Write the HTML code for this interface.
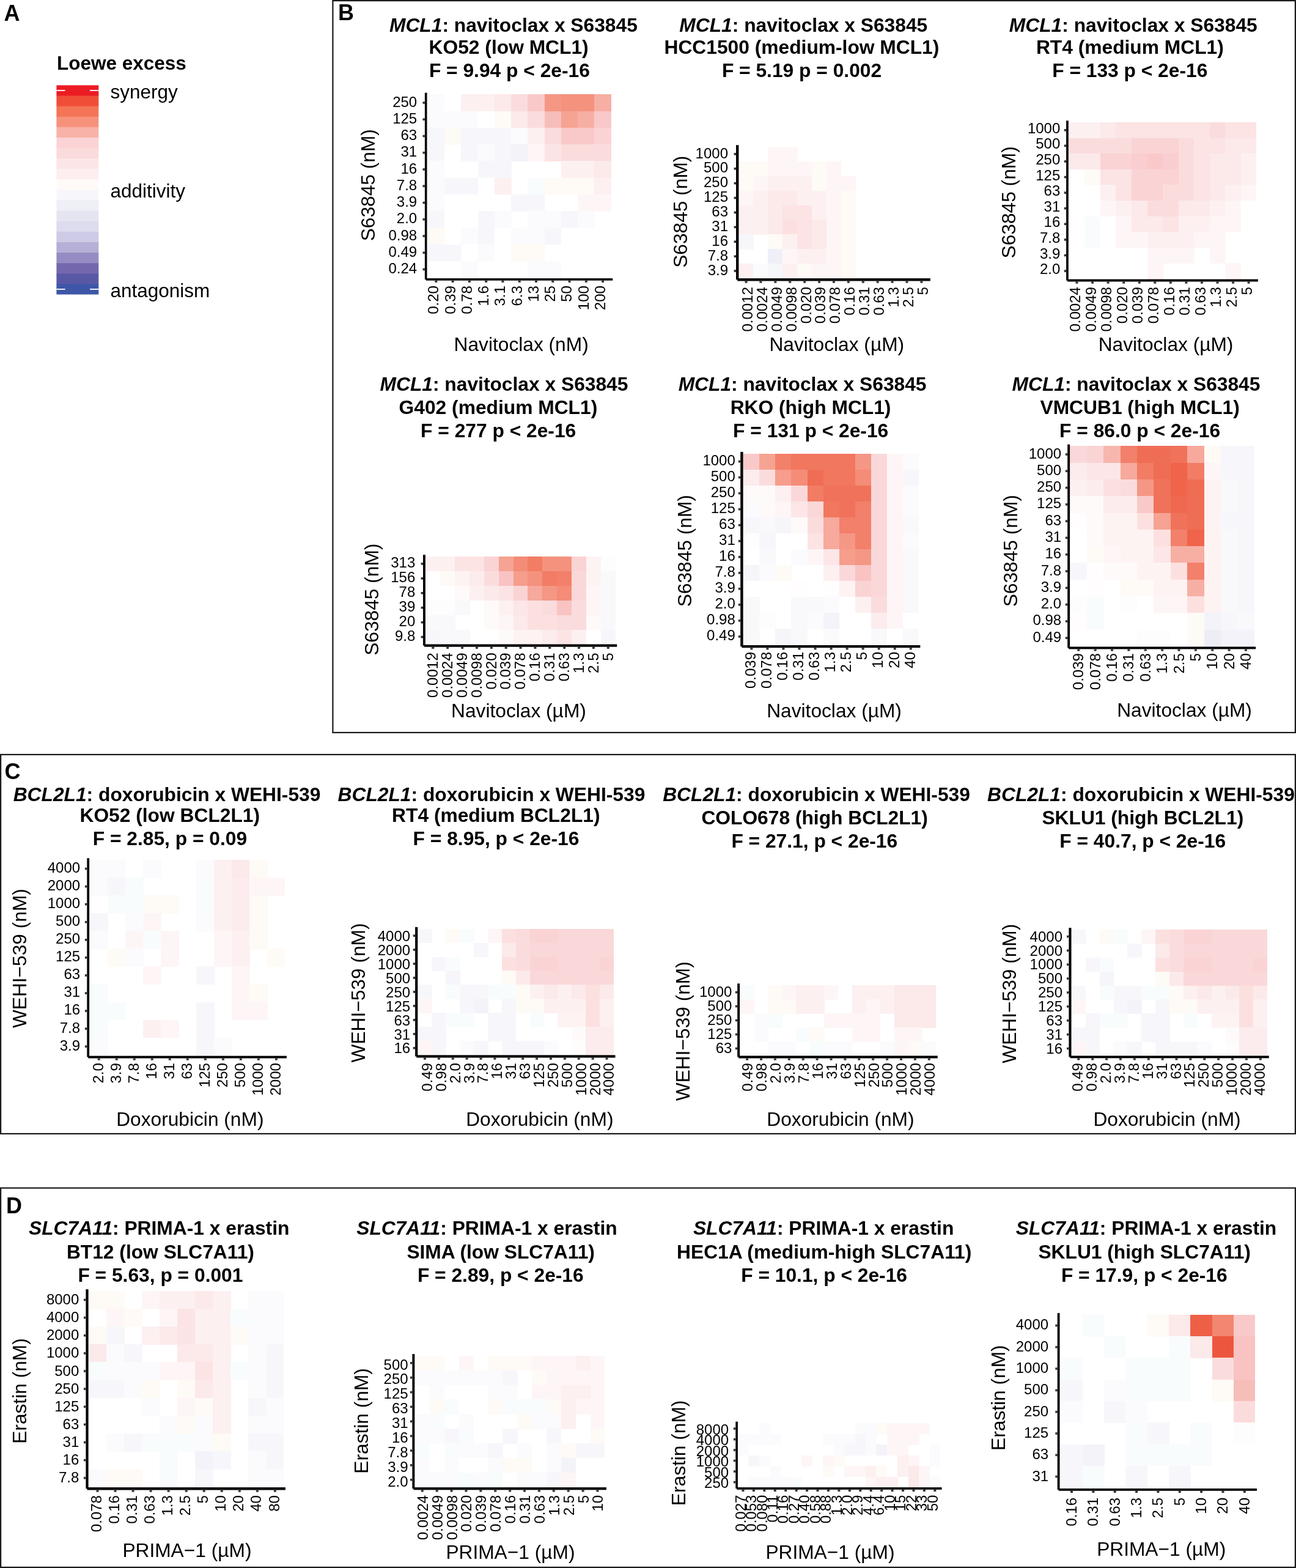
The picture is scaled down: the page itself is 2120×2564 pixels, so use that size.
<!DOCTYPE html><html><head><meta charset="utf-8"><title>Loewe excess heatmaps</title>
<style>html,body{margin:0;padding:0;background:#fff;}svg{display:block;}text{font-family:'Liberation Sans', Arial, Helvetica, sans-serif;fill:#000;}</style></head><body>
<svg xmlns="http://www.w3.org/2000/svg" width="2120" height="2564" viewBox="0 0 2120 2564">
<rect x="0" y="0" width="2120" height="2564" fill="#fff"/>
<rect x="544.4" y="1.1" width="1574.5" height="1196.8" fill="none" stroke="#1a1a1a" stroke-width="2.2"/>
<rect x="1.1" y="1233.9" width="2117.8" height="620.0" fill="none" stroke="#1a1a1a" stroke-width="2.2"/>
<rect x="1.1" y="1942.6" width="2117.8" height="620.3" fill="none" stroke="#1a1a1a" stroke-width="2.2"/>
<text x="6.5" y="33.5" font-size="36" font-weight="bold" fill="#1a1a1a">A</text>
<text x="553.0" y="32.8" font-size="36" font-weight="bold" fill="#1a1a1a">B</text>
<text x="7.5" y="1273.8" font-size="36" font-weight="bold" fill="#1a1a1a">C</text>
<text x="10.0" y="1984.0" font-size="36" font-weight="bold" fill="#1a1a1a">D</text>
<rect x="92.40" y="139.40" width="68.90" height="17.71" fill="#ec1c24"/>
<rect x="92.40" y="156.50" width="68.90" height="17.71" fill="#f04e37"/>
<rect x="92.40" y="173.61" width="68.90" height="17.71" fill="#f37456"/>
<rect x="92.40" y="190.72" width="68.90" height="17.71" fill="#f6917c"/>
<rect x="92.40" y="207.82" width="68.90" height="17.71" fill="#f8b2a7"/>
<rect x="92.40" y="224.93" width="68.90" height="17.71" fill="#fbd3d4"/>
<rect x="92.40" y="242.03" width="68.90" height="17.71" fill="#fbdadb"/>
<rect x="92.40" y="259.13" width="68.90" height="17.71" fill="#fce5e6"/>
<rect x="92.40" y="276.24" width="68.90" height="17.71" fill="#fdeeef"/>
<rect x="92.40" y="293.35" width="68.90" height="17.71" fill="#fffaf8"/>
<rect x="92.40" y="310.45" width="68.90" height="17.71" fill="#f7f7fb"/>
<rect x="92.40" y="327.56" width="68.90" height="17.71" fill="#efeff7"/>
<rect x="92.40" y="344.66" width="68.90" height="17.71" fill="#e5e4f1"/>
<rect x="92.40" y="361.76" width="68.90" height="17.71" fill="#dddcee"/>
<rect x="92.40" y="378.87" width="68.90" height="17.71" fill="#cdcbe5"/>
<rect x="92.40" y="395.98" width="68.90" height="17.71" fill="#b6afd6"/>
<rect x="92.40" y="413.08" width="68.90" height="17.71" fill="#978bc4"/>
<rect x="92.40" y="430.19" width="68.90" height="17.71" fill="#7567ae"/>
<rect x="92.40" y="447.29" width="68.90" height="17.71" fill="#5958a5"/>
<rect x="92.40" y="464.39" width="68.90" height="17.11" fill="#3e56a8"/>
<rect x="92.40" y="147.05" width="14.2" height="1.8" fill="#fff"/>
<rect x="147.10" y="147.05" width="14.2" height="1.8" fill="#fff"/>
<rect x="92.40" y="472.05" width="14.2" height="1.8" fill="#fff"/>
<rect x="147.10" y="472.05" width="14.2" height="1.8" fill="#fff"/>
<text x="93.0" y="113.5" font-size="31.5" font-weight="bold">Loewe excess</text>
<text x="180.5" y="160.6" font-size="31.5">synergy</text>
<text x="180.5" y="322.8" font-size="31.5">additivity</text>
<text x="180.5" y="485.5" font-size="31.5">antagonism</text>
<g shape-rendering="crispEdges"><rect x="698.50" y="154.38" width="28.99" height="27.75" fill="#fbfbfd"/><rect x="754.26" y="154.38" width="27.77" height="27.75" fill="#fdf0f0"/><rect x="781.54" y="154.38" width="27.77" height="27.75" fill="#fdf0f0"/><rect x="808.81" y="154.38" width="27.77" height="27.75" fill="#fce9ea"/><rect x="836.09" y="154.38" width="27.77" height="27.75" fill="#fbdcdd"/><rect x="863.36" y="154.38" width="27.77" height="27.75" fill="#f9c9ca"/><rect x="890.63" y="154.38" width="27.77" height="27.75" fill="#f59785"/><rect x="917.91" y="154.38" width="27.77" height="27.75" fill="#f4927e"/><rect x="945.19" y="154.38" width="27.77" height="27.75" fill="#f4927e"/><rect x="972.46" y="154.38" width="27.27" height="27.75" fill="#f7afa4"/><rect x="698.50" y="181.62" width="28.99" height="27.75" fill="#fbfbfd"/><rect x="726.99" y="181.62" width="27.77" height="27.75" fill="#fbfbfd"/><rect x="754.26" y="181.62" width="27.77" height="27.75" fill="#fbfbfd"/><rect x="808.81" y="181.62" width="27.77" height="27.75" fill="#fefaf6"/><rect x="836.09" y="181.62" width="27.77" height="27.75" fill="#fce9ea"/><rect x="863.36" y="181.62" width="27.77" height="27.75" fill="#fbdcdd"/><rect x="890.63" y="181.62" width="27.77" height="27.75" fill="#f7bdb9"/><rect x="917.91" y="181.62" width="27.77" height="27.75" fill="#f6a393"/><rect x="945.19" y="181.62" width="27.77" height="27.75" fill="#f7afa4"/><rect x="972.46" y="181.62" width="27.27" height="27.75" fill="#f9c9ca"/><rect x="698.50" y="208.88" width="28.99" height="27.75" fill="#f7f7fb"/><rect x="726.99" y="208.88" width="27.77" height="27.75" fill="#fefaf6"/><rect x="754.26" y="208.88" width="27.77" height="27.75" fill="#f7f7fb"/><rect x="781.54" y="208.88" width="27.77" height="27.75" fill="#f7f7fb"/><rect x="808.81" y="208.88" width="27.77" height="27.75" fill="#f7f7fb"/><rect x="836.09" y="208.88" width="27.77" height="27.75" fill="#fbfbfd"/><rect x="863.36" y="208.88" width="27.77" height="27.75" fill="#fdf0f0"/><rect x="890.63" y="208.88" width="27.77" height="27.75" fill="#fbdcdd"/><rect x="917.91" y="208.88" width="27.77" height="27.75" fill="#f9c9ca"/><rect x="945.19" y="208.88" width="27.77" height="27.75" fill="#f9c9ca"/><rect x="972.46" y="208.88" width="27.27" height="27.75" fill="#fad3d5"/><rect x="698.50" y="236.12" width="28.99" height="27.75" fill="#f7f7fb"/><rect x="754.26" y="236.12" width="27.77" height="27.75" fill="#f7f7fb"/><rect x="781.54" y="236.12" width="27.77" height="27.75" fill="#fbfbfd"/><rect x="808.81" y="236.12" width="27.77" height="27.75" fill="#f7f7fb"/><rect x="836.09" y="236.12" width="27.77" height="27.75" fill="#f3f3f9"/><rect x="863.36" y="236.12" width="27.77" height="27.75" fill="#fef6f6"/><rect x="890.63" y="236.12" width="27.77" height="27.75" fill="#fce3e4"/><rect x="917.91" y="236.12" width="27.77" height="27.75" fill="#fbdcdd"/><rect x="945.19" y="236.12" width="27.77" height="27.75" fill="#fbdcdd"/><rect x="972.46" y="236.12" width="27.27" height="27.75" fill="#fbdcdd"/><rect x="698.50" y="263.38" width="28.99" height="27.75" fill="#fbfbfd"/><rect x="781.54" y="263.38" width="27.77" height="27.75" fill="#f7f7fb"/><rect x="808.81" y="263.38" width="27.77" height="27.75" fill="#f7f7fb"/><rect x="917.91" y="263.38" width="27.77" height="27.75" fill="#fdf0f0"/><rect x="945.19" y="263.38" width="27.77" height="27.75" fill="#fdf0f0"/><rect x="972.46" y="263.38" width="27.27" height="27.75" fill="#fce9ea"/><rect x="698.50" y="290.62" width="28.99" height="27.75" fill="#fbfbfd"/><rect x="726.99" y="290.62" width="27.77" height="27.75" fill="#f7f7fb"/><rect x="754.26" y="290.62" width="27.77" height="27.75" fill="#f7f7fb"/><rect x="808.81" y="290.62" width="27.77" height="27.75" fill="#fdf0f0"/><rect x="863.36" y="290.62" width="27.77" height="27.75" fill="#f9fcfd"/><rect x="890.63" y="290.62" width="27.77" height="27.75" fill="#fefaf6"/><rect x="917.91" y="290.62" width="27.77" height="27.75" fill="#fefaf6"/><rect x="945.19" y="290.62" width="27.77" height="27.75" fill="#fefaf6"/><rect x="972.46" y="290.62" width="27.27" height="27.75" fill="#fdf0f0"/><rect x="698.50" y="317.88" width="28.99" height="27.75" fill="#fbfbfd"/><rect x="836.09" y="317.88" width="27.77" height="27.75" fill="#f7f7fb"/><rect x="863.36" y="317.88" width="27.77" height="27.75" fill="#f7f7fb"/><rect x="945.19" y="317.88" width="27.77" height="27.75" fill="#fef6f6"/><rect x="972.46" y="317.88" width="27.27" height="27.75" fill="#fef6f6"/><rect x="698.50" y="345.12" width="28.99" height="27.75" fill="#f7f7fb"/><rect x="781.54" y="345.12" width="27.77" height="27.75" fill="#f7f7fb"/><rect x="808.81" y="345.12" width="27.77" height="27.75" fill="#fbfbfd"/><rect x="863.36" y="345.12" width="27.77" height="27.75" fill="#fbfbfd"/><rect x="890.63" y="345.12" width="27.77" height="27.75" fill="#fbfbfd"/><rect x="917.91" y="345.12" width="27.77" height="27.75" fill="#f7f7fb"/><rect x="945.19" y="345.12" width="27.77" height="27.75" fill="#fbfbfd"/><rect x="698.50" y="372.38" width="28.99" height="27.75" fill="#fefaf6"/><rect x="754.26" y="372.38" width="27.77" height="27.75" fill="#fbfbfd"/><rect x="781.54" y="372.38" width="27.77" height="27.75" fill="#f7f7fb"/><rect x="836.09" y="372.38" width="27.77" height="27.75" fill="#fbfbfd"/><rect x="863.36" y="372.38" width="27.77" height="27.75" fill="#fbfbfd"/><rect x="890.63" y="372.38" width="27.77" height="27.75" fill="#f7f7fb"/><rect x="698.50" y="399.62" width="28.99" height="27.75" fill="#f7f7fb"/><rect x="726.99" y="399.62" width="27.77" height="27.75" fill="#f7f7fb"/><rect x="781.54" y="399.62" width="27.77" height="27.75" fill="#fbfbfd"/><rect x="836.09" y="399.62" width="27.77" height="27.75" fill="#fefaf6"/><rect x="863.36" y="399.62" width="27.77" height="27.75" fill="#fefaf6"/><rect x="754.26" y="426.88" width="27.77" height="28.23" fill="#fbfbfd"/><rect x="863.36" y="426.88" width="27.77" height="28.23" fill="#fbfbfd"/><rect x="890.63" y="426.88" width="27.77" height="28.23" fill="#fbfbfd"/></g>
<rect x="694.90" y="151.68" width="3.60" height="305.22" fill="#000"/>
<rect x="696.70" y="455.10" width="305.53" height="3.60" fill="#000"/>
<rect x="691.50" y="166.20" width="3.4" height="3.6" fill="#333333"/><rect x="691.50" y="193.45" width="3.4" height="3.6" fill="#333333"/><rect x="691.50" y="220.70" width="3.4" height="3.6" fill="#333333"/><rect x="691.50" y="247.95" width="3.4" height="3.6" fill="#333333"/><rect x="691.50" y="275.20" width="3.4" height="3.6" fill="#333333"/><rect x="691.50" y="302.45" width="3.4" height="3.6" fill="#333333"/><rect x="691.50" y="329.70" width="3.4" height="3.6" fill="#333333"/><rect x="691.50" y="356.95" width="3.4" height="3.6" fill="#333333"/><rect x="691.50" y="384.20" width="3.4" height="3.6" fill="#333333"/><rect x="691.50" y="411.45" width="3.4" height="3.6" fill="#333333"/><rect x="691.50" y="438.70" width="3.4" height="3.6" fill="#333333"/><rect x="711.35" y="458.70" width="4.0" height="3.2" fill="#333333"/><rect x="738.62" y="458.70" width="4.0" height="3.2" fill="#333333"/><rect x="765.90" y="458.70" width="4.0" height="3.2" fill="#333333"/><rect x="793.17" y="458.70" width="4.0" height="3.2" fill="#333333"/><rect x="820.45" y="458.70" width="4.0" height="3.2" fill="#333333"/><rect x="847.72" y="458.70" width="4.0" height="3.2" fill="#333333"/><rect x="875.00" y="458.70" width="4.0" height="3.2" fill="#333333"/><rect x="902.27" y="458.70" width="4.0" height="3.2" fill="#333333"/><rect x="929.55" y="458.70" width="4.0" height="3.2" fill="#333333"/><rect x="956.82" y="458.70" width="4.0" height="3.2" fill="#333333"/><rect x="984.10" y="458.70" width="4.0" height="3.2" fill="#333333"/>
<text x="682.20" y="174.60" font-size="24" text-anchor="end">250</text><text x="682.20" y="201.85" font-size="24" text-anchor="end">125</text><text x="682.20" y="229.10" font-size="24" text-anchor="end">63</text><text x="682.20" y="256.35" font-size="24" text-anchor="end">31</text><text x="682.20" y="283.60" font-size="24" text-anchor="end">16</text><text x="682.20" y="310.85" font-size="24" text-anchor="end">7.8</text><text x="682.20" y="338.10" font-size="24" text-anchor="end">3.9</text><text x="682.20" y="365.35" font-size="24" text-anchor="end">2.0</text><text x="682.20" y="392.60" font-size="24" text-anchor="end">0.98</text><text x="682.20" y="419.85" font-size="24" text-anchor="end">0.49</text><text x="682.20" y="447.10" font-size="24" text-anchor="end">0.24</text><text transform="translate(717.25 467.10) rotate(-90)" font-size="24" text-anchor="end">0.20</text><text transform="translate(744.52 467.10) rotate(-90)" font-size="24" text-anchor="end">0.39</text><text transform="translate(771.80 467.10) rotate(-90)" font-size="24" text-anchor="end">0.78</text><text transform="translate(799.07 467.10) rotate(-90)" font-size="24" text-anchor="end">1.6</text><text transform="translate(826.35 467.10) rotate(-90)" font-size="24" text-anchor="end">3.1</text><text transform="translate(853.62 467.10) rotate(-90)" font-size="24" text-anchor="end">6.3</text><text transform="translate(880.90 467.10) rotate(-90)" font-size="24" text-anchor="end">13</text><text transform="translate(908.17 467.10) rotate(-90)" font-size="24" text-anchor="end">25</text><text transform="translate(935.45 467.10) rotate(-90)" font-size="24" text-anchor="end">50</text><text transform="translate(962.72 467.10) rotate(-90)" font-size="24" text-anchor="end">100</text><text transform="translate(990.00 467.10) rotate(-90)" font-size="24" text-anchor="end">200</text>
<text x="636.94" y="52.30" font-size="31.75" font-weight="bold"><tspan font-style="italic">MCL1</tspan>: navitoclax x S63845</text>
<text x="701.58" y="87.60" font-size="31.75" font-weight="bold">KO52 (low MCL1)</text>
<text x="701.88" y="125.60" font-size="31.75" font-weight="bold">F = 9.94 p &lt; 2e-16</text>
<text x="742.60" y="573.90" font-size="31.70">Navitoclax (nM)</text>
<text transform="translate(612.70 302.70) rotate(-90)" font-size="31.70" text-anchor="middle">S63845 (nM)</text>
<g shape-rendering="crispEdges"><rect x="1256.37" y="239.96" width="24.41" height="24.39" fill="#fef6f6"/><rect x="1280.27" y="239.96" width="24.41" height="24.39" fill="#fef6f6"/><rect x="1208.40" y="263.85" width="24.56" height="24.39" fill="#fefaf6"/><rect x="1232.46" y="263.85" width="24.41" height="24.39" fill="#fefaf6"/><rect x="1256.37" y="263.85" width="24.41" height="24.39" fill="#fef6f6"/><rect x="1280.27" y="263.85" width="24.41" height="24.39" fill="#fef6f6"/><rect x="1304.18" y="263.85" width="24.41" height="24.39" fill="#fef6f6"/><rect x="1328.09" y="263.85" width="24.41" height="24.39" fill="#fefaf6"/><rect x="1352.00" y="263.85" width="24.41" height="24.39" fill="#fef6f6"/><rect x="1208.40" y="287.74" width="24.56" height="24.39" fill="#fefaf6"/><rect x="1232.46" y="287.74" width="24.41" height="24.39" fill="#fef6f6"/><rect x="1256.37" y="287.74" width="24.41" height="24.39" fill="#fdf0f0"/><rect x="1280.27" y="287.74" width="24.41" height="24.39" fill="#fdf0f0"/><rect x="1304.18" y="287.74" width="24.41" height="24.39" fill="#fdf0f0"/><rect x="1328.09" y="287.74" width="24.41" height="24.39" fill="#fefaf6"/><rect x="1352.00" y="287.74" width="24.41" height="24.39" fill="#fef6f6"/><rect x="1375.91" y="287.74" width="24.41" height="24.39" fill="#fef6f6"/><rect x="1208.40" y="311.63" width="24.56" height="24.39" fill="#fef6f6"/><rect x="1232.46" y="311.63" width="24.41" height="24.39" fill="#fdf0f0"/><rect x="1256.37" y="311.63" width="24.41" height="24.39" fill="#fce9ea"/><rect x="1280.27" y="311.63" width="24.41" height="24.39" fill="#fce9ea"/><rect x="1304.18" y="311.63" width="24.41" height="24.39" fill="#fdf0f0"/><rect x="1328.09" y="311.63" width="24.41" height="24.39" fill="#fdf0f0"/><rect x="1352.00" y="311.63" width="24.41" height="24.39" fill="#fef6f6"/><rect x="1375.91" y="311.63" width="24.41" height="24.39" fill="#fefaf6"/><rect x="1208.40" y="335.52" width="24.56" height="24.39" fill="#fdf0f0"/><rect x="1232.46" y="335.52" width="24.41" height="24.39" fill="#fdf0f0"/><rect x="1256.37" y="335.52" width="24.41" height="24.39" fill="#fce9ea"/><rect x="1280.27" y="335.52" width="24.41" height="24.39" fill="#fce3e4"/><rect x="1304.18" y="335.52" width="24.41" height="24.39" fill="#fce3e4"/><rect x="1328.09" y="335.52" width="24.41" height="24.39" fill="#fdf0f0"/><rect x="1352.00" y="335.52" width="24.41" height="24.39" fill="#fef6f6"/><rect x="1375.91" y="335.52" width="24.41" height="24.39" fill="#fefaf6"/><rect x="1208.40" y="359.41" width="24.56" height="24.39" fill="#fdf0f0"/><rect x="1232.46" y="359.41" width="24.41" height="24.39" fill="#fdf0f0"/><rect x="1256.37" y="359.41" width="24.41" height="24.39" fill="#fce9ea"/><rect x="1280.27" y="359.41" width="24.41" height="24.39" fill="#fce0e0"/><rect x="1304.18" y="359.41" width="24.41" height="24.39" fill="#fce3e4"/><rect x="1328.09" y="359.41" width="24.41" height="24.39" fill="#fce9ea"/><rect x="1352.00" y="359.41" width="24.41" height="24.39" fill="#fef6f6"/><rect x="1375.91" y="359.41" width="24.41" height="24.39" fill="#fefaf6"/><rect x="1208.40" y="383.30" width="24.56" height="24.39" fill="#f7f7fb"/><rect x="1256.37" y="383.30" width="24.41" height="24.39" fill="#fefaf6"/><rect x="1280.27" y="383.30" width="24.41" height="24.39" fill="#fdf0f0"/><rect x="1304.18" y="383.30" width="24.41" height="24.39" fill="#fce3e4"/><rect x="1328.09" y="383.30" width="24.41" height="24.39" fill="#fce9ea"/><rect x="1352.00" y="383.30" width="24.41" height="24.39" fill="#fef6f6"/><rect x="1375.91" y="383.30" width="24.41" height="24.39" fill="#fefaf6"/><rect x="1256.37" y="407.19" width="24.41" height="24.39" fill="#efeff7"/><rect x="1280.27" y="407.19" width="24.41" height="24.39" fill="#fef6f6"/><rect x="1304.18" y="407.19" width="24.41" height="24.39" fill="#fdf0f0"/><rect x="1328.09" y="407.19" width="24.41" height="24.39" fill="#fdf0f0"/><rect x="1352.00" y="407.19" width="24.41" height="24.39" fill="#fef6f6"/><rect x="1375.91" y="407.19" width="24.41" height="24.39" fill="#fefaf6"/><rect x="1208.40" y="431.08" width="24.56" height="24.02" fill="#fdf0f0"/><rect x="1232.46" y="431.08" width="24.41" height="24.02" fill="#fbfbfd"/><rect x="1256.37" y="431.08" width="24.41" height="24.02" fill="#f7f7fb"/><rect x="1280.27" y="431.08" width="24.41" height="24.02" fill="#fdf0f0"/><rect x="1304.18" y="431.08" width="24.41" height="24.02" fill="#fefaf6"/><rect x="1328.09" y="431.08" width="24.41" height="24.02" fill="#fef6f6"/><rect x="1352.00" y="431.08" width="24.41" height="24.02" fill="#fef6f6"/><rect x="1375.91" y="431.08" width="24.41" height="24.02" fill="#fefaf6"/></g>
<rect x="1204.00" y="237.26" width="4.40" height="220.04" fill="#000"/>
<rect x="1206.20" y="455.10" width="315.65" height="4.40" fill="#000"/>
<rect x="1200.60" y="250.10" width="3.4" height="3.6" fill="#333333"/><rect x="1200.60" y="274.00" width="3.4" height="3.6" fill="#333333"/><rect x="1200.60" y="297.88" width="3.4" height="3.6" fill="#333333"/><rect x="1200.60" y="321.78" width="3.4" height="3.6" fill="#333333"/><rect x="1200.60" y="345.67" width="3.4" height="3.6" fill="#333333"/><rect x="1200.60" y="369.56" width="3.4" height="3.6" fill="#333333"/><rect x="1200.60" y="393.44" width="3.4" height="3.6" fill="#333333"/><rect x="1200.60" y="417.33" width="3.4" height="3.6" fill="#333333"/><rect x="1200.60" y="441.22" width="3.4" height="3.6" fill="#333333"/><rect x="1218.50" y="459.50" width="4.0" height="3.2" fill="#333333"/><rect x="1242.41" y="459.50" width="4.0" height="3.2" fill="#333333"/><rect x="1266.32" y="459.50" width="4.0" height="3.2" fill="#333333"/><rect x="1290.23" y="459.50" width="4.0" height="3.2" fill="#333333"/><rect x="1314.14" y="459.50" width="4.0" height="3.2" fill="#333333"/><rect x="1338.04" y="459.50" width="4.0" height="3.2" fill="#333333"/><rect x="1361.95" y="459.50" width="4.0" height="3.2" fill="#333333"/><rect x="1385.86" y="459.50" width="4.0" height="3.2" fill="#333333"/><rect x="1409.77" y="459.50" width="4.0" height="3.2" fill="#333333"/><rect x="1433.68" y="459.50" width="4.0" height="3.2" fill="#333333"/><rect x="1457.58" y="459.50" width="4.0" height="3.2" fill="#333333"/><rect x="1481.49" y="459.50" width="4.0" height="3.2" fill="#333333"/><rect x="1505.40" y="459.50" width="4.0" height="3.2" fill="#333333"/>
<text x="1191.00" y="258.50" font-size="24" text-anchor="end">1000</text><text x="1191.00" y="282.40" font-size="24" text-anchor="end">500</text><text x="1191.00" y="306.29" font-size="24" text-anchor="end">250</text><text x="1191.00" y="330.18" font-size="24" text-anchor="end">125</text><text x="1191.00" y="354.07" font-size="24" text-anchor="end">63</text><text x="1191.00" y="377.96" font-size="24" text-anchor="end">31</text><text x="1191.00" y="401.85" font-size="24" text-anchor="end">16</text><text x="1191.00" y="425.74" font-size="24" text-anchor="end">7.8</text><text x="1191.00" y="449.62" font-size="24" text-anchor="end">3.9</text><text transform="translate(1230.90 469.10) rotate(-90)" font-size="24" text-anchor="end">0.0012</text><text transform="translate(1254.81 469.10) rotate(-90)" font-size="24" text-anchor="end">0.0024</text><text transform="translate(1278.72 469.10) rotate(-90)" font-size="24" text-anchor="end">0.0049</text><text transform="translate(1302.63 469.10) rotate(-90)" font-size="24" text-anchor="end">0.0098</text><text transform="translate(1326.54 469.10) rotate(-90)" font-size="24" text-anchor="end">0.020</text><text transform="translate(1350.44 469.10) rotate(-90)" font-size="24" text-anchor="end">0.039</text><text transform="translate(1374.35 469.10) rotate(-90)" font-size="24" text-anchor="end">0.078</text><text transform="translate(1398.26 469.10) rotate(-90)" font-size="24" text-anchor="end">0.16</text><text transform="translate(1422.17 469.10) rotate(-90)" font-size="24" text-anchor="end">0.31</text><text transform="translate(1446.08 469.10) rotate(-90)" font-size="24" text-anchor="end">0.63</text><text transform="translate(1469.98 469.10) rotate(-90)" font-size="24" text-anchor="end">1.3</text><text transform="translate(1493.89 469.10) rotate(-90)" font-size="24" text-anchor="end">2.5</text><text transform="translate(1517.80 469.10) rotate(-90)" font-size="24" text-anchor="end">5</text>
<text x="1111.34" y="52.30" font-size="31.75" font-weight="bold"><tspan font-style="italic">MCL1</tspan>: navitoclax x S63845</text>
<text x="1086.48" y="87.60" font-size="31.75" font-weight="bold">HCC1500 (medium-low MCL1)</text>
<text x="1180.88" y="125.60" font-size="31.75" font-weight="bold">F = 5.19 p = 0.002</text>
<text x="1258.40" y="573.90" font-size="31.70">Navitoclax (µM)</text>
<text transform="translate(1123.80 346.20) rotate(-90)" font-size="31.70" text-anchor="middle">S63845 (nM)</text>
<g shape-rendering="crispEdges"><rect x="1747.80" y="200.00" width="26.96" height="26.09" fill="#fdf0f0"/><rect x="1774.26" y="200.00" width="26.06" height="26.09" fill="#fdf0f0"/><rect x="1799.82" y="200.00" width="26.06" height="26.09" fill="#fce9ea"/><rect x="1825.38" y="200.00" width="26.06" height="26.09" fill="#fce3e4"/><rect x="1850.94" y="200.00" width="26.06" height="26.09" fill="#fce3e4"/><rect x="1876.50" y="200.00" width="26.06" height="26.09" fill="#fce3e4"/><rect x="1902.06" y="200.00" width="26.06" height="26.09" fill="#fce3e4"/><rect x="1927.62" y="200.00" width="26.06" height="26.09" fill="#fce3e4"/><rect x="1953.18" y="200.00" width="26.06" height="26.09" fill="#fce3e4"/><rect x="1978.74" y="200.00" width="26.06" height="26.09" fill="#fbdcdd"/><rect x="2004.30" y="200.00" width="26.06" height="26.09" fill="#fce3e4"/><rect x="2029.86" y="200.00" width="25.56" height="26.09" fill="#fce3e4"/><rect x="1747.80" y="225.59" width="26.96" height="26.09" fill="#fbdcdd"/><rect x="1774.26" y="225.59" width="26.06" height="26.09" fill="#fbdcdd"/><rect x="1799.82" y="225.59" width="26.06" height="26.09" fill="#fbdcdd"/><rect x="1825.38" y="225.59" width="26.06" height="26.09" fill="#fbdcdd"/><rect x="1850.94" y="225.59" width="26.06" height="26.09" fill="#fad3d5"/><rect x="1876.50" y="225.59" width="26.06" height="26.09" fill="#fad3d5"/><rect x="1902.06" y="225.59" width="26.06" height="26.09" fill="#fad3d5"/><rect x="1927.62" y="225.59" width="26.06" height="26.09" fill="#fbdcdd"/><rect x="1953.18" y="225.59" width="26.06" height="26.09" fill="#fce3e4"/><rect x="1978.74" y="225.59" width="26.06" height="26.09" fill="#fce3e4"/><rect x="2004.30" y="225.59" width="26.06" height="26.09" fill="#fce9ea"/><rect x="2029.86" y="225.59" width="25.56" height="26.09" fill="#fce9ea"/><rect x="1747.80" y="251.18" width="26.96" height="26.09" fill="#fce9ea"/><rect x="1774.26" y="251.18" width="26.06" height="26.09" fill="#fce9ea"/><rect x="1799.82" y="251.18" width="26.06" height="26.09" fill="#fad3d5"/><rect x="1825.38" y="251.18" width="26.06" height="26.09" fill="#fad3d5"/><rect x="1850.94" y="251.18" width="26.06" height="26.09" fill="#faced0"/><rect x="1876.50" y="251.18" width="26.06" height="26.09" fill="#f9c9ca"/><rect x="1902.06" y="251.18" width="26.06" height="26.09" fill="#faced0"/><rect x="1927.62" y="251.18" width="26.06" height="26.09" fill="#fbdcdd"/><rect x="1953.18" y="251.18" width="26.06" height="26.09" fill="#fce3e4"/><rect x="1978.74" y="251.18" width="26.06" height="26.09" fill="#fce9ea"/><rect x="2004.30" y="251.18" width="26.06" height="26.09" fill="#fce9ea"/><rect x="2029.86" y="251.18" width="25.56" height="26.09" fill="#fdf0f0"/><rect x="1774.26" y="276.77" width="26.06" height="26.09" fill="#fefaf6"/><rect x="1799.82" y="276.77" width="26.06" height="26.09" fill="#fce3e4"/><rect x="1825.38" y="276.77" width="26.06" height="26.09" fill="#fce3e4"/><rect x="1850.94" y="276.77" width="26.06" height="26.09" fill="#fad3d5"/><rect x="1876.50" y="276.77" width="26.06" height="26.09" fill="#fad3d5"/><rect x="1902.06" y="276.77" width="26.06" height="26.09" fill="#fad3d5"/><rect x="1927.62" y="276.77" width="26.06" height="26.09" fill="#fbdcdd"/><rect x="1953.18" y="276.77" width="26.06" height="26.09" fill="#fce3e4"/><rect x="1978.74" y="276.77" width="26.06" height="26.09" fill="#fce9ea"/><rect x="2004.30" y="276.77" width="26.06" height="26.09" fill="#fce9ea"/><rect x="2029.86" y="276.77" width="25.56" height="26.09" fill="#fdf0f0"/><rect x="1799.82" y="302.36" width="26.06" height="26.09" fill="#fdf0f0"/><rect x="1825.38" y="302.36" width="26.06" height="26.09" fill="#fce3e4"/><rect x="1850.94" y="302.36" width="26.06" height="26.09" fill="#fad3d5"/><rect x="1876.50" y="302.36" width="26.06" height="26.09" fill="#fad3d5"/><rect x="1902.06" y="302.36" width="26.06" height="26.09" fill="#fbdcdd"/><rect x="1927.62" y="302.36" width="26.06" height="26.09" fill="#fbdcdd"/><rect x="1953.18" y="302.36" width="26.06" height="26.09" fill="#fce3e4"/><rect x="1978.74" y="302.36" width="26.06" height="26.09" fill="#fce9ea"/><rect x="2004.30" y="302.36" width="26.06" height="26.09" fill="#fdf0f0"/><rect x="2029.86" y="302.36" width="25.56" height="26.09" fill="#fef6f6"/><rect x="1799.82" y="327.95" width="26.06" height="26.09" fill="#fef6f6"/><rect x="1825.38" y="327.95" width="26.06" height="26.09" fill="#fdf0f0"/><rect x="1850.94" y="327.95" width="26.06" height="26.09" fill="#fce9ea"/><rect x="1876.50" y="327.95" width="26.06" height="26.09" fill="#fbdcdd"/><rect x="1902.06" y="327.95" width="26.06" height="26.09" fill="#fbdcdd"/><rect x="1927.62" y="327.95" width="26.06" height="26.09" fill="#fce9ea"/><rect x="1953.18" y="327.95" width="26.06" height="26.09" fill="#fce9ea"/><rect x="1978.74" y="327.95" width="26.06" height="26.09" fill="#fdf0f0"/><rect x="2004.30" y="327.95" width="26.06" height="26.09" fill="#fef6f6"/><rect x="1774.26" y="353.54" width="26.06" height="26.09" fill="#f9fcfd"/><rect x="1825.38" y="353.54" width="26.06" height="26.09" fill="#fef6f6"/><rect x="1850.94" y="353.54" width="26.06" height="26.09" fill="#fce9ea"/><rect x="1876.50" y="353.54" width="26.06" height="26.09" fill="#fce9ea"/><rect x="1902.06" y="353.54" width="26.06" height="26.09" fill="#fce3e4"/><rect x="1927.62" y="353.54" width="26.06" height="26.09" fill="#fdf0f0"/><rect x="1953.18" y="353.54" width="26.06" height="26.09" fill="#fdf0f0"/><rect x="1978.74" y="353.54" width="26.06" height="26.09" fill="#fef6f6"/><rect x="2004.30" y="353.54" width="26.06" height="26.09" fill="#fef6f6"/><rect x="1774.26" y="379.13" width="26.06" height="26.09" fill="#f9fcfd"/><rect x="1825.38" y="379.13" width="26.06" height="26.09" fill="#fef6f6"/><rect x="1850.94" y="379.13" width="26.06" height="26.09" fill="#fef6f6"/><rect x="1876.50" y="379.13" width="26.06" height="26.09" fill="#fdf0f0"/><rect x="1902.06" y="379.13" width="26.06" height="26.09" fill="#fdf0f0"/><rect x="1927.62" y="379.13" width="26.06" height="26.09" fill="#fdf0f0"/><rect x="1953.18" y="379.13" width="26.06" height="26.09" fill="#fef6f6"/><rect x="1978.74" y="379.13" width="26.06" height="26.09" fill="#fef6f6"/><rect x="1876.50" y="404.72" width="26.06" height="26.09" fill="#fef6f6"/><rect x="1902.06" y="404.72" width="26.06" height="26.09" fill="#fef6f6"/><rect x="1927.62" y="404.72" width="26.06" height="26.09" fill="#fef6f6"/><rect x="1978.74" y="404.72" width="26.06" height="26.09" fill="#fef6f6"/><rect x="1876.50" y="430.31" width="26.06" height="26.29" fill="#fef6f6"/><rect x="2004.30" y="430.31" width="26.06" height="26.29" fill="#fef6f6"/></g>
<rect x="1744.10" y="197.30" width="3.70" height="261.25" fill="#000"/>
<rect x="1745.95" y="456.60" width="311.97" height="3.90" fill="#000"/>
<rect x="1740.70" y="210.99" width="3.4" height="3.6" fill="#333333"/><rect x="1740.70" y="236.58" width="3.4" height="3.6" fill="#333333"/><rect x="1740.70" y="262.18" width="3.4" height="3.6" fill="#333333"/><rect x="1740.70" y="287.76" width="3.4" height="3.6" fill="#333333"/><rect x="1740.70" y="313.35" width="3.4" height="3.6" fill="#333333"/><rect x="1740.70" y="338.94" width="3.4" height="3.6" fill="#333333"/><rect x="1740.70" y="364.54" width="3.4" height="3.6" fill="#333333"/><rect x="1740.70" y="390.12" width="3.4" height="3.6" fill="#333333"/><rect x="1740.70" y="415.71" width="3.4" height="3.6" fill="#333333"/><rect x="1740.70" y="441.31" width="3.4" height="3.6" fill="#333333"/><rect x="1759.48" y="460.50" width="4.0" height="3.2" fill="#333333"/><rect x="1785.04" y="460.50" width="4.0" height="3.2" fill="#333333"/><rect x="1810.60" y="460.50" width="4.0" height="3.2" fill="#333333"/><rect x="1836.16" y="460.50" width="4.0" height="3.2" fill="#333333"/><rect x="1861.72" y="460.50" width="4.0" height="3.2" fill="#333333"/><rect x="1887.28" y="460.50" width="4.0" height="3.2" fill="#333333"/><rect x="1912.84" y="460.50" width="4.0" height="3.2" fill="#333333"/><rect x="1938.40" y="460.50" width="4.0" height="3.2" fill="#333333"/><rect x="1963.96" y="460.50" width="4.0" height="3.2" fill="#333333"/><rect x="1989.52" y="460.50" width="4.0" height="3.2" fill="#333333"/><rect x="2015.08" y="460.50" width="4.0" height="3.2" fill="#333333"/><rect x="2040.64" y="460.50" width="4.0" height="3.2" fill="#333333"/>
<text x="1734.30" y="217.79" font-size="24" text-anchor="end">1000</text><text x="1734.30" y="243.38" font-size="24" text-anchor="end">500</text><text x="1734.30" y="268.98" font-size="24" text-anchor="end">250</text><text x="1734.30" y="294.56" font-size="24" text-anchor="end">125</text><text x="1734.30" y="320.15" font-size="24" text-anchor="end">63</text><text x="1734.30" y="345.75" font-size="24" text-anchor="end">31</text><text x="1734.30" y="371.34" font-size="24" text-anchor="end">16</text><text x="1734.30" y="396.93" font-size="24" text-anchor="end">7.8</text><text x="1734.30" y="422.51" font-size="24" text-anchor="end">3.9</text><text x="1734.30" y="448.11" font-size="24" text-anchor="end">2.0</text><text transform="translate(1767.18 469.10) rotate(-90)" font-size="24" text-anchor="end">0.0024</text><text transform="translate(1792.74 469.10) rotate(-90)" font-size="24" text-anchor="end">0.0049</text><text transform="translate(1818.30 469.10) rotate(-90)" font-size="24" text-anchor="end">0.0098</text><text transform="translate(1843.86 469.10) rotate(-90)" font-size="24" text-anchor="end">0.020</text><text transform="translate(1869.42 469.10) rotate(-90)" font-size="24" text-anchor="end">0.039</text><text transform="translate(1894.98 469.10) rotate(-90)" font-size="24" text-anchor="end">0.078</text><text transform="translate(1920.54 469.10) rotate(-90)" font-size="24" text-anchor="end">0.16</text><text transform="translate(1946.10 469.10) rotate(-90)" font-size="24" text-anchor="end">0.31</text><text transform="translate(1971.66 469.10) rotate(-90)" font-size="24" text-anchor="end">0.63</text><text transform="translate(1997.22 469.10) rotate(-90)" font-size="24" text-anchor="end">1.3</text><text transform="translate(2022.78 469.10) rotate(-90)" font-size="24" text-anchor="end">2.5</text><text transform="translate(2048.34 469.10) rotate(-90)" font-size="24" text-anchor="end">5</text>
<text x="1650.84" y="52.30" font-size="31.75" font-weight="bold"><tspan font-style="italic">MCL1</tspan>: navitoclax x S63845</text>
<text x="1694.88" y="87.60" font-size="31.75" font-weight="bold">RT4 (medium MCL1)</text>
<text x="1721.18" y="125.60" font-size="31.75" font-weight="bold">F = 133 p &lt; 2e-16</text>
<text x="1796.70" y="574.40" font-size="31.70">Navitoclax (µM)</text>
<text transform="translate(1661.40 330.85) rotate(-90)" font-size="31.70" text-anchor="middle">S63845 (nM)</text>
<g shape-rendering="crispEdges"><rect x="695.90" y="909.93" width="24.87" height="24.44" fill="#fdf0f0"/><rect x="720.27" y="909.93" width="24.37" height="24.44" fill="#fdf0f0"/><rect x="744.14" y="909.93" width="24.37" height="24.44" fill="#fce3e4"/><rect x="768.01" y="909.93" width="24.37" height="24.44" fill="#fce3e4"/><rect x="791.88" y="909.93" width="24.37" height="24.44" fill="#fad3d5"/><rect x="815.75" y="909.93" width="24.37" height="24.44" fill="#f6a393"/><rect x="839.62" y="909.93" width="24.37" height="24.44" fill="#f48c77"/><rect x="863.49" y="909.93" width="24.37" height="24.44" fill="#f27c64"/><rect x="887.36" y="909.93" width="24.37" height="24.44" fill="#f4927e"/><rect x="911.23" y="909.93" width="24.37" height="24.44" fill="#f4927e"/><rect x="935.10" y="909.93" width="24.37" height="24.44" fill="#fad3d5"/><rect x="958.97" y="909.93" width="24.37" height="24.44" fill="#fef3f3"/><rect x="982.84" y="909.93" width="23.87" height="24.44" fill="#fdfdfe"/><rect x="720.27" y="933.87" width="24.37" height="24.44" fill="#fefaf6"/><rect x="744.14" y="933.87" width="24.37" height="24.44" fill="#fef3f3"/><rect x="768.01" y="933.87" width="24.37" height="24.44" fill="#fceced"/><rect x="791.88" y="933.87" width="24.37" height="24.44" fill="#fbdcdd"/><rect x="815.75" y="933.87" width="24.37" height="24.44" fill="#f8c3c2"/><rect x="839.62" y="933.87" width="24.37" height="24.44" fill="#f69d8c"/><rect x="863.49" y="933.87" width="24.37" height="24.44" fill="#f4927e"/><rect x="887.36" y="933.87" width="24.37" height="24.44" fill="#f27c64"/><rect x="911.23" y="933.87" width="24.37" height="24.44" fill="#f2806a"/><rect x="935.10" y="933.87" width="24.37" height="24.44" fill="#fad8d9"/><rect x="958.97" y="933.87" width="24.37" height="24.44" fill="#fef3f3"/><rect x="982.84" y="933.87" width="23.87" height="24.44" fill="#f9f9fc"/><rect x="744.14" y="957.81" width="24.37" height="24.44" fill="#fefafa"/><rect x="768.01" y="957.81" width="24.37" height="24.44" fill="#fdf0f0"/><rect x="791.88" y="957.81" width="24.37" height="24.44" fill="#fce9ea"/><rect x="815.75" y="957.81" width="24.37" height="24.44" fill="#fce3e4"/><rect x="839.62" y="957.81" width="24.37" height="24.44" fill="#fad3d5"/><rect x="863.49" y="957.81" width="24.37" height="24.44" fill="#f6a99c"/><rect x="887.36" y="957.81" width="24.37" height="24.44" fill="#f59785"/><rect x="911.23" y="957.81" width="24.37" height="24.44" fill="#f48c77"/><rect x="935.10" y="957.81" width="24.37" height="24.44" fill="#fad8d9"/><rect x="958.97" y="957.81" width="24.37" height="24.44" fill="#fef6f6"/><rect x="982.84" y="957.81" width="23.87" height="24.44" fill="#f9f9fc"/><rect x="695.90" y="981.75" width="24.87" height="24.44" fill="#fdfdfe"/><rect x="720.27" y="981.75" width="24.37" height="24.44" fill="#fdfdfe"/><rect x="744.14" y="981.75" width="24.37" height="24.44" fill="#f9f9fc"/><rect x="791.88" y="981.75" width="24.37" height="24.44" fill="#fefafa"/><rect x="815.75" y="981.75" width="24.37" height="24.44" fill="#fdf0f0"/><rect x="839.62" y="981.75" width="24.37" height="24.44" fill="#fce6e7"/><rect x="863.49" y="981.75" width="24.37" height="24.44" fill="#fce0e0"/><rect x="887.36" y="981.75" width="24.37" height="24.44" fill="#fbdcdd"/><rect x="911.23" y="981.75" width="24.37" height="24.44" fill="#f8c3c2"/><rect x="935.10" y="981.75" width="24.37" height="24.44" fill="#fbdcdd"/><rect x="958.97" y="981.75" width="24.37" height="24.44" fill="#fef6f6"/><rect x="982.84" y="981.75" width="23.87" height="24.44" fill="#f9f9fc"/><rect x="695.90" y="1005.69" width="24.87" height="24.44" fill="#f9f9fc"/><rect x="720.27" y="1005.69" width="24.37" height="24.44" fill="#f9f9fc"/><rect x="791.88" y="1005.69" width="24.37" height="24.44" fill="#fefafa"/><rect x="815.75" y="1005.69" width="24.37" height="24.44" fill="#fef6f6"/><rect x="839.62" y="1005.69" width="24.37" height="24.44" fill="#fce9ea"/><rect x="863.49" y="1005.69" width="24.37" height="24.44" fill="#fce0e0"/><rect x="887.36" y="1005.69" width="24.37" height="24.44" fill="#fce0e0"/><rect x="911.23" y="1005.69" width="24.37" height="24.44" fill="#fbdcdd"/><rect x="935.10" y="1005.69" width="24.37" height="24.44" fill="#fbdcdd"/><rect x="958.97" y="1005.69" width="24.37" height="24.44" fill="#fefafa"/><rect x="982.84" y="1005.69" width="23.87" height="24.44" fill="#f9f9fc"/><rect x="695.90" y="1029.63" width="24.87" height="23.87" fill="#f7f7fb"/><rect x="720.27" y="1029.63" width="24.37" height="23.87" fill="#f9f9fc"/><rect x="744.14" y="1029.63" width="24.37" height="23.87" fill="#f9f9fc"/><rect x="815.75" y="1029.63" width="24.37" height="23.87" fill="#fefafa"/><rect x="839.62" y="1029.63" width="24.37" height="23.87" fill="#fef3f3"/><rect x="863.49" y="1029.63" width="24.37" height="23.87" fill="#fef3f3"/><rect x="887.36" y="1029.63" width="24.37" height="23.87" fill="#fceced"/><rect x="911.23" y="1029.63" width="24.37" height="23.87" fill="#fce3e4"/><rect x="935.10" y="1029.63" width="24.37" height="23.87" fill="#fdf0f0"/><rect x="982.84" y="1029.63" width="23.87" height="23.87" fill="#f7f7fb"/></g>
<rect x="692.00" y="907.23" width="3.90" height="148.37" fill="#000"/>
<rect x="693.95" y="1053.50" width="315.26" height="4.20" fill="#000"/>
<rect x="688.60" y="920.10" width="3.4" height="3.6" fill="#333333"/><rect x="688.60" y="944.04" width="3.4" height="3.6" fill="#333333"/><rect x="688.60" y="967.98" width="3.4" height="3.6" fill="#333333"/><rect x="688.60" y="991.92" width="3.4" height="3.6" fill="#333333"/><rect x="688.60" y="1015.86" width="3.4" height="3.6" fill="#333333"/><rect x="688.60" y="1039.80" width="3.4" height="3.6" fill="#333333"/><rect x="706.33" y="1057.70" width="4.0" height="3.2" fill="#333333"/><rect x="730.20" y="1057.70" width="4.0" height="3.2" fill="#333333"/><rect x="754.07" y="1057.70" width="4.0" height="3.2" fill="#333333"/><rect x="777.94" y="1057.70" width="4.0" height="3.2" fill="#333333"/><rect x="801.81" y="1057.70" width="4.0" height="3.2" fill="#333333"/><rect x="825.68" y="1057.70" width="4.0" height="3.2" fill="#333333"/><rect x="849.55" y="1057.70" width="4.0" height="3.2" fill="#333333"/><rect x="873.42" y="1057.70" width="4.0" height="3.2" fill="#333333"/><rect x="897.29" y="1057.70" width="4.0" height="3.2" fill="#333333"/><rect x="921.16" y="1057.70" width="4.0" height="3.2" fill="#333333"/><rect x="945.03" y="1057.70" width="4.0" height="3.2" fill="#333333"/><rect x="968.90" y="1057.70" width="4.0" height="3.2" fill="#333333"/><rect x="992.77" y="1057.70" width="4.0" height="3.2" fill="#333333"/>
<text x="679.30" y="928.40" font-size="24" text-anchor="end">313</text><text x="679.30" y="952.34" font-size="24" text-anchor="end">156</text><text x="679.30" y="976.28" font-size="24" text-anchor="end">78</text><text x="679.30" y="1000.22" font-size="24" text-anchor="end">39</text><text x="679.30" y="1024.16" font-size="24" text-anchor="end">20</text><text x="679.30" y="1048.10" font-size="24" text-anchor="end">9.8</text><text transform="translate(716.13 1067.50) rotate(-90)" font-size="24" text-anchor="end">0.0012</text><text transform="translate(740.00 1067.50) rotate(-90)" font-size="24" text-anchor="end">0.0024</text><text transform="translate(763.87 1067.50) rotate(-90)" font-size="24" text-anchor="end">0.0049</text><text transform="translate(787.74 1067.50) rotate(-90)" font-size="24" text-anchor="end">0.0098</text><text transform="translate(811.61 1067.50) rotate(-90)" font-size="24" text-anchor="end">0.020</text><text transform="translate(835.48 1067.50) rotate(-90)" font-size="24" text-anchor="end">0.039</text><text transform="translate(859.35 1067.50) rotate(-90)" font-size="24" text-anchor="end">0.078</text><text transform="translate(883.22 1067.50) rotate(-90)" font-size="24" text-anchor="end">0.16</text><text transform="translate(907.09 1067.50) rotate(-90)" font-size="24" text-anchor="end">0.31</text><text transform="translate(930.96 1067.50) rotate(-90)" font-size="24" text-anchor="end">0.63</text><text transform="translate(954.83 1067.50) rotate(-90)" font-size="24" text-anchor="end">1.3</text><text transform="translate(978.70 1067.50) rotate(-90)" font-size="24" text-anchor="end">2.5</text><text transform="translate(1002.57 1067.50) rotate(-90)" font-size="24" text-anchor="end">5</text>
<text x="621.54" y="638.70" font-size="31.75" font-weight="bold"><tspan font-style="italic">MCL1</tspan>: navitoclax x S63845</text>
<text x="652.60" y="676.70" font-size="31.75" font-weight="bold">G402 (medium MCL1)</text>
<text x="688.08" y="714.50" font-size="31.75" font-weight="bold">F = 277 p &lt; 2e-16</text>
<text x="738.10" y="1172.80" font-size="31.70">Navitoclax (µM)</text>
<text transform="translate(619.00 980.25) rotate(-90)" font-size="31.70" text-anchor="middle">S63845 (nM)</text>
<g shape-rendering="crispEdges"><rect x="1215.60" y="741.59" width="27.28" height="26.53" fill="#f9c9ca"/><rect x="1242.38" y="741.59" width="26.55" height="26.53" fill="#f6a393"/><rect x="1268.42" y="741.59" width="26.55" height="26.53" fill="#f2806a"/><rect x="1294.46" y="741.59" width="26.55" height="26.53" fill="#f1775f"/><rect x="1320.51" y="741.59" width="26.55" height="26.53" fill="#f1775f"/><rect x="1346.55" y="741.59" width="26.55" height="26.53" fill="#f1775f"/><rect x="1372.60" y="741.59" width="26.55" height="26.53" fill="#f1775f"/><rect x="1398.64" y="741.59" width="26.55" height="26.53" fill="#f59785"/><rect x="1424.69" y="741.59" width="26.55" height="26.53" fill="#fad8d9"/><rect x="1450.73" y="741.59" width="26.55" height="26.53" fill="#fef6f6"/><rect x="1476.78" y="741.59" width="26.04" height="26.53" fill="#fbfbfd"/><rect x="1215.60" y="767.62" width="27.28" height="26.53" fill="#fceced"/><rect x="1242.38" y="767.62" width="26.55" height="26.53" fill="#fbdcdd"/><rect x="1268.42" y="767.62" width="26.55" height="26.53" fill="#f69d8c"/><rect x="1294.46" y="767.62" width="26.55" height="26.53" fill="#f48c77"/><rect x="1320.51" y="767.62" width="26.55" height="26.53" fill="#f06d55"/><rect x="1346.55" y="767.62" width="26.55" height="26.53" fill="#f1775f"/><rect x="1372.60" y="767.62" width="26.55" height="26.53" fill="#f1775f"/><rect x="1398.64" y="767.62" width="26.55" height="26.53" fill="#f48c77"/><rect x="1424.69" y="767.62" width="26.55" height="26.53" fill="#fad8d9"/><rect x="1450.73" y="767.62" width="26.55" height="26.53" fill="#fef6f6"/><rect x="1476.78" y="767.62" width="26.04" height="26.53" fill="#f7f7fb"/><rect x="1215.60" y="793.65" width="27.28" height="26.53" fill="#fefafa"/><rect x="1242.38" y="793.65" width="26.55" height="26.53" fill="#fefafa"/><rect x="1268.42" y="793.65" width="26.55" height="26.53" fill="#fdf0f0"/><rect x="1294.46" y="793.65" width="26.55" height="26.53" fill="#fad8d9"/><rect x="1320.51" y="793.65" width="26.55" height="26.53" fill="#f27c64"/><rect x="1346.55" y="793.65" width="26.55" height="26.53" fill="#f0725a"/><rect x="1372.60" y="793.65" width="26.55" height="26.53" fill="#f0725a"/><rect x="1398.64" y="793.65" width="26.55" height="26.53" fill="#f0725a"/><rect x="1424.69" y="793.65" width="26.55" height="26.53" fill="#fad8d9"/><rect x="1450.73" y="793.65" width="26.55" height="26.53" fill="#fef6f6"/><rect x="1476.78" y="793.65" width="26.04" height="26.53" fill="#fbfbfd"/><rect x="1215.60" y="819.68" width="27.28" height="26.53" fill="#fbfbfd"/><rect x="1242.38" y="819.68" width="26.55" height="26.53" fill="#fefafa"/><rect x="1268.42" y="819.68" width="26.55" height="26.53" fill="#fef6f6"/><rect x="1294.46" y="819.68" width="26.55" height="26.53" fill="#fce6e7"/><rect x="1320.51" y="819.68" width="26.55" height="26.53" fill="#fad8d9"/><rect x="1346.55" y="819.68" width="26.55" height="26.53" fill="#f1775f"/><rect x="1372.60" y="819.68" width="26.55" height="26.53" fill="#f0725a"/><rect x="1398.64" y="819.68" width="26.55" height="26.53" fill="#f2806a"/><rect x="1424.69" y="819.68" width="26.55" height="26.53" fill="#fad8d9"/><rect x="1450.73" y="819.68" width="26.55" height="26.53" fill="#fef6f6"/><rect x="1476.78" y="819.68" width="26.04" height="26.53" fill="#fbfbfd"/><rect x="1215.60" y="845.71" width="27.28" height="26.53" fill="#f7f7fb"/><rect x="1242.38" y="845.71" width="26.55" height="26.53" fill="#f9f9fc"/><rect x="1268.42" y="845.71" width="26.55" height="26.53" fill="#f5f5fa"/><rect x="1294.46" y="845.71" width="26.55" height="26.53" fill="#fefafa"/><rect x="1320.51" y="845.71" width="26.55" height="26.53" fill="#fbdcdd"/><rect x="1346.55" y="845.71" width="26.55" height="26.53" fill="#f6a99c"/><rect x="1372.60" y="845.71" width="26.55" height="26.53" fill="#f2806a"/><rect x="1398.64" y="845.71" width="26.55" height="26.53" fill="#f2806a"/><rect x="1424.69" y="845.71" width="26.55" height="26.53" fill="#fad8d9"/><rect x="1450.73" y="845.71" width="26.55" height="26.53" fill="#fef6f6"/><rect x="1476.78" y="845.71" width="26.04" height="26.53" fill="#f9f9fc"/><rect x="1215.60" y="871.74" width="27.28" height="26.53" fill="#fffdfd"/><rect x="1242.38" y="871.74" width="26.55" height="26.53" fill="#f7f7fb"/><rect x="1320.51" y="871.74" width="26.55" height="26.53" fill="#fce3e4"/><rect x="1346.55" y="871.74" width="26.55" height="26.53" fill="#f6a99c"/><rect x="1372.60" y="871.74" width="26.55" height="26.53" fill="#f59785"/><rect x="1398.64" y="871.74" width="26.55" height="26.53" fill="#f2806a"/><rect x="1424.69" y="871.74" width="26.55" height="26.53" fill="#fad8d9"/><rect x="1450.73" y="871.74" width="26.55" height="26.53" fill="#fef6f6"/><rect x="1476.78" y="871.74" width="26.04" height="26.53" fill="#fbfbfd"/><rect x="1242.38" y="897.77" width="26.55" height="26.53" fill="#f9f9fc"/><rect x="1294.46" y="897.77" width="26.55" height="26.53" fill="#fbfbfd"/><rect x="1320.51" y="897.77" width="26.55" height="26.53" fill="#fef6f6"/><rect x="1346.55" y="897.77" width="26.55" height="26.53" fill="#fce6e7"/><rect x="1372.60" y="897.77" width="26.55" height="26.53" fill="#f69d8c"/><rect x="1398.64" y="897.77" width="26.55" height="26.53" fill="#f59785"/><rect x="1424.69" y="897.77" width="26.55" height="26.53" fill="#fad8d9"/><rect x="1450.73" y="897.77" width="26.55" height="26.53" fill="#fef6f6"/><rect x="1476.78" y="897.77" width="26.04" height="26.53" fill="#f9f9fc"/><rect x="1215.60" y="923.80" width="27.28" height="26.53" fill="#f5f5fa"/><rect x="1242.38" y="923.80" width="26.55" height="26.53" fill="#fbfbfd"/><rect x="1268.42" y="923.80" width="26.55" height="26.53" fill="#fefaf6"/><rect x="1346.55" y="923.80" width="26.55" height="26.53" fill="#fdf0f0"/><rect x="1372.60" y="923.80" width="26.55" height="26.53" fill="#fad8d9"/><rect x="1398.64" y="923.80" width="26.55" height="26.53" fill="#f8c3c2"/><rect x="1424.69" y="923.80" width="26.55" height="26.53" fill="#fad8d9"/><rect x="1450.73" y="923.80" width="26.55" height="26.53" fill="#fef6f6"/><rect x="1476.78" y="923.80" width="26.04" height="26.53" fill="#f9f9fc"/><rect x="1294.46" y="949.83" width="26.55" height="26.53" fill="#fffdfd"/><rect x="1346.55" y="949.83" width="26.55" height="26.53" fill="#fffdfd"/><rect x="1372.60" y="949.83" width="26.55" height="26.53" fill="#fef3f3"/><rect x="1398.64" y="949.83" width="26.55" height="26.53" fill="#fad3d5"/><rect x="1424.69" y="949.83" width="26.55" height="26.53" fill="#fad8d9"/><rect x="1450.73" y="949.83" width="26.55" height="26.53" fill="#fef6f6"/><rect x="1476.78" y="949.83" width="26.04" height="26.53" fill="#f9f9fc"/><rect x="1215.60" y="975.86" width="27.28" height="26.53" fill="#f9f9fc"/><rect x="1294.46" y="975.86" width="26.55" height="26.53" fill="#f9f9fc"/><rect x="1320.51" y="975.86" width="26.55" height="26.53" fill="#f9f9fc"/><rect x="1346.55" y="975.86" width="26.55" height="26.53" fill="#fbfbfd"/><rect x="1398.64" y="975.86" width="26.55" height="26.53" fill="#fdf0f0"/><rect x="1424.69" y="975.86" width="26.55" height="26.53" fill="#fbdcdd"/><rect x="1450.73" y="975.86" width="26.55" height="26.53" fill="#fef6f6"/><rect x="1476.78" y="975.86" width="26.04" height="26.53" fill="#f9f9fc"/><rect x="1215.60" y="1001.89" width="27.28" height="26.53" fill="#f9f9fc"/><rect x="1242.38" y="1001.89" width="26.55" height="26.53" fill="#fdfdfe"/><rect x="1294.46" y="1001.89" width="26.55" height="26.53" fill="#f9f9fc"/><rect x="1320.51" y="1001.89" width="26.55" height="26.53" fill="#fbfbfd"/><rect x="1346.55" y="1001.89" width="26.55" height="26.53" fill="#f3f3f9"/><rect x="1424.69" y="1001.89" width="26.55" height="26.53" fill="#fceced"/><rect x="1450.73" y="1001.89" width="26.55" height="26.53" fill="#fef6f6"/><rect x="1215.60" y="1027.92" width="27.28" height="27.08" fill="#f9f9fc"/><rect x="1268.42" y="1027.92" width="26.55" height="27.08" fill="#f5f5fa"/><rect x="1294.46" y="1027.92" width="26.55" height="27.08" fill="#f9f9fc"/><rect x="1346.55" y="1027.92" width="26.55" height="27.08" fill="#fbfbfd"/><rect x="1424.69" y="1027.92" width="26.55" height="27.08" fill="#f9f9fc"/><rect x="1476.78" y="1027.92" width="26.04" height="27.08" fill="#f9f9fc"/></g>
<rect x="1211.20" y="738.89" width="4.40" height="318.21" fill="#000"/>
<rect x="1213.40" y="1055.00" width="291.92" height="4.20" fill="#000"/>
<rect x="1207.80" y="752.81" width="3.4" height="3.6" fill="#333333"/><rect x="1207.80" y="778.84" width="3.4" height="3.6" fill="#333333"/><rect x="1207.80" y="804.87" width="3.4" height="3.6" fill="#333333"/><rect x="1207.80" y="830.90" width="3.4" height="3.6" fill="#333333"/><rect x="1207.80" y="856.93" width="3.4" height="3.6" fill="#333333"/><rect x="1207.80" y="882.96" width="3.4" height="3.6" fill="#333333"/><rect x="1207.80" y="908.99" width="3.4" height="3.6" fill="#333333"/><rect x="1207.80" y="935.02" width="3.4" height="3.6" fill="#333333"/><rect x="1207.80" y="961.05" width="3.4" height="3.6" fill="#333333"/><rect x="1207.80" y="987.08" width="3.4" height="3.6" fill="#333333"/><rect x="1207.80" y="1013.11" width="3.4" height="3.6" fill="#333333"/><rect x="1207.80" y="1039.13" width="3.4" height="3.6" fill="#333333"/><rect x="1227.35" y="1059.20" width="4.0" height="3.2" fill="#333333"/><rect x="1253.40" y="1059.20" width="4.0" height="3.2" fill="#333333"/><rect x="1279.44" y="1059.20" width="4.0" height="3.2" fill="#333333"/><rect x="1305.49" y="1059.20" width="4.0" height="3.2" fill="#333333"/><rect x="1331.53" y="1059.20" width="4.0" height="3.2" fill="#333333"/><rect x="1357.58" y="1059.20" width="4.0" height="3.2" fill="#333333"/><rect x="1383.62" y="1059.20" width="4.0" height="3.2" fill="#333333"/><rect x="1409.67" y="1059.20" width="4.0" height="3.2" fill="#333333"/><rect x="1435.71" y="1059.20" width="4.0" height="3.2" fill="#333333"/><rect x="1461.76" y="1059.20" width="4.0" height="3.2" fill="#333333"/><rect x="1487.80" y="1059.20" width="4.0" height="3.2" fill="#333333"/>
<text x="1202.80" y="760.61" font-size="24" text-anchor="end">1000</text><text x="1202.80" y="786.63" font-size="24" text-anchor="end">500</text><text x="1202.80" y="812.67" font-size="24" text-anchor="end">250</text><text x="1202.80" y="838.70" font-size="24" text-anchor="end">125</text><text x="1202.80" y="864.73" font-size="24" text-anchor="end">63</text><text x="1202.80" y="890.76" font-size="24" text-anchor="end">31</text><text x="1202.80" y="916.79" font-size="24" text-anchor="end">16</text><text x="1202.80" y="942.82" font-size="24" text-anchor="end">7.8</text><text x="1202.80" y="968.85" font-size="24" text-anchor="end">3.9</text><text x="1202.80" y="994.88" font-size="24" text-anchor="end">2.0</text><text x="1202.80" y="1020.90" font-size="24" text-anchor="end">0.98</text><text x="1202.80" y="1046.93" font-size="24" text-anchor="end">0.49</text><text transform="translate(1236.10 1066.00) rotate(-90)" font-size="24" text-anchor="end">0.039</text><text transform="translate(1262.15 1066.00) rotate(-90)" font-size="24" text-anchor="end">0.078</text><text transform="translate(1288.19 1066.00) rotate(-90)" font-size="24" text-anchor="end">0.16</text><text transform="translate(1314.24 1066.00) rotate(-90)" font-size="24" text-anchor="end">0.31</text><text transform="translate(1340.28 1066.00) rotate(-90)" font-size="24" text-anchor="end">0.63</text><text transform="translate(1366.33 1066.00) rotate(-90)" font-size="24" text-anchor="end">1.3</text><text transform="translate(1392.37 1066.00) rotate(-90)" font-size="24" text-anchor="end">2.5</text><text transform="translate(1418.42 1066.00) rotate(-90)" font-size="24" text-anchor="end">5</text><text transform="translate(1444.46 1066.00) rotate(-90)" font-size="24" text-anchor="end">10</text><text transform="translate(1470.51 1066.00) rotate(-90)" font-size="24" text-anchor="end">20</text><text transform="translate(1496.55 1066.00) rotate(-90)" font-size="24" text-anchor="end">40</text>
<text x="1109.64" y="638.70" font-size="31.75" font-weight="bold"><tspan font-style="italic">MCL1</tspan>: navitoclax x S63845</text>
<text x="1194.68" y="676.70" font-size="31.75" font-weight="bold">RKO (high MCL1)</text>
<text x="1199.08" y="714.50" font-size="31.75" font-weight="bold">F = 131 p &lt; 2e-16</text>
<text x="1254.20" y="1172.80" font-size="31.70">Navitoclax (µM)</text>
<text transform="translate(1131.00 900.75) rotate(-90)" font-size="31.70" text-anchor="middle">S63845 (nM)</text>
<g shape-rendering="crispEdges"><rect x="1750.10" y="729.35" width="28.37" height="27.79" fill="#fad8d9"/><rect x="1777.97" y="729.35" width="27.87" height="27.79" fill="#fad3d5"/><rect x="1805.34" y="729.35" width="27.87" height="27.79" fill="#f7b6ae"/><rect x="1832.71" y="729.35" width="27.87" height="27.79" fill="#f2806a"/><rect x="1860.08" y="729.35" width="27.87" height="27.79" fill="#f06d55"/><rect x="1887.45" y="729.35" width="27.87" height="27.79" fill="#f06d55"/><rect x="1914.82" y="729.35" width="27.87" height="27.79" fill="#f0725a"/><rect x="1942.19" y="729.35" width="27.87" height="27.79" fill="#f6a99c"/><rect x="1969.56" y="729.35" width="27.87" height="27.79" fill="#fefaf6"/><rect x="1996.93" y="729.35" width="27.87" height="27.79" fill="#f7f7fb"/><rect x="2024.30" y="729.35" width="27.37" height="27.79" fill="#f7f7fb"/><rect x="1750.10" y="756.64" width="28.37" height="27.79" fill="#fceced"/><rect x="1777.97" y="756.64" width="27.87" height="27.79" fill="#fce6e7"/><rect x="1805.34" y="756.64" width="27.87" height="27.79" fill="#fce6e7"/><rect x="1832.71" y="756.64" width="27.87" height="27.79" fill="#f6a99c"/><rect x="1860.08" y="756.64" width="27.87" height="27.79" fill="#f27c64"/><rect x="1887.45" y="756.64" width="27.87" height="27.79" fill="#f06d55"/><rect x="1914.82" y="756.64" width="27.87" height="27.79" fill="#ef644b"/><rect x="1942.19" y="756.64" width="27.87" height="27.79" fill="#f27c64"/><rect x="1969.56" y="756.64" width="27.87" height="27.79" fill="#fef6f6"/><rect x="1996.93" y="756.64" width="27.87" height="27.79" fill="#f7f7fb"/><rect x="2024.30" y="756.64" width="27.37" height="27.79" fill="#f7f7fb"/><rect x="1750.10" y="783.93" width="28.37" height="27.79" fill="#fdf0f0"/><rect x="1777.97" y="783.93" width="27.87" height="27.79" fill="#fceced"/><rect x="1805.34" y="783.93" width="27.87" height="27.79" fill="#fce0e0"/><rect x="1832.71" y="783.93" width="27.87" height="27.79" fill="#fbdcdd"/><rect x="1860.08" y="783.93" width="27.87" height="27.79" fill="#f59785"/><rect x="1887.45" y="783.93" width="27.87" height="27.79" fill="#f0725a"/><rect x="1914.82" y="783.93" width="27.87" height="27.79" fill="#ef644b"/><rect x="1942.19" y="783.93" width="27.87" height="27.79" fill="#f06d55"/><rect x="1969.56" y="783.93" width="27.87" height="27.79" fill="#fef3f3"/><rect x="1996.93" y="783.93" width="27.87" height="27.79" fill="#f9f9fc"/><rect x="2024.30" y="783.93" width="27.37" height="27.79" fill="#f7f7fb"/><rect x="1750.10" y="811.22" width="28.37" height="27.79" fill="#fefafa"/><rect x="1777.97" y="811.22" width="27.87" height="27.79" fill="#fefafa"/><rect x="1805.34" y="811.22" width="27.87" height="27.79" fill="#fceced"/><rect x="1832.71" y="811.22" width="27.87" height="27.79" fill="#fceced"/><rect x="1860.08" y="811.22" width="27.87" height="27.79" fill="#f9c9ca"/><rect x="1887.45" y="811.22" width="27.87" height="27.79" fill="#f0725a"/><rect x="1914.82" y="811.22" width="27.87" height="27.79" fill="#f06850"/><rect x="1942.19" y="811.22" width="27.87" height="27.79" fill="#f06d55"/><rect x="1969.56" y="811.22" width="27.87" height="27.79" fill="#fef3f3"/><rect x="1996.93" y="811.22" width="27.87" height="27.79" fill="#f9f9fc"/><rect x="2024.30" y="811.22" width="27.37" height="27.79" fill="#f7f7fb"/><rect x="1750.10" y="838.51" width="28.37" height="27.79" fill="#fffdfd"/><rect x="1777.97" y="838.51" width="27.87" height="27.79" fill="#fefafa"/><rect x="1805.34" y="838.51" width="27.87" height="27.79" fill="#fef3f3"/><rect x="1832.71" y="838.51" width="27.87" height="27.79" fill="#fef3f3"/><rect x="1860.08" y="838.51" width="27.87" height="27.79" fill="#fce0e0"/><rect x="1887.45" y="838.51" width="27.87" height="27.79" fill="#f6a393"/><rect x="1914.82" y="838.51" width="27.87" height="27.79" fill="#f0725a"/><rect x="1942.19" y="838.51" width="27.87" height="27.79" fill="#f06d55"/><rect x="1969.56" y="838.51" width="27.87" height="27.79" fill="#fef3f3"/><rect x="1996.93" y="838.51" width="27.87" height="27.79" fill="#f7f7fb"/><rect x="2024.30" y="838.51" width="27.37" height="27.79" fill="#f7f7fb"/><rect x="1777.97" y="865.80" width="27.87" height="27.79" fill="#fefafa"/><rect x="1805.34" y="865.80" width="27.87" height="27.79" fill="#fef3f3"/><rect x="1832.71" y="865.80" width="27.87" height="27.79" fill="#fef3f3"/><rect x="1860.08" y="865.80" width="27.87" height="27.79" fill="#fef3f3"/><rect x="1887.45" y="865.80" width="27.87" height="27.79" fill="#fce0e0"/><rect x="1914.82" y="865.80" width="27.87" height="27.79" fill="#f2806a"/><rect x="1942.19" y="865.80" width="27.87" height="27.79" fill="#ef644b"/><rect x="1969.56" y="865.80" width="27.87" height="27.79" fill="#fef3f3"/><rect x="1996.93" y="865.80" width="27.87" height="27.79" fill="#f9f9fc"/><rect x="2024.30" y="865.80" width="27.37" height="27.79" fill="#f7f7fb"/><rect x="1777.97" y="893.09" width="27.87" height="27.79" fill="#fefaf6"/><rect x="1805.34" y="893.09" width="27.87" height="27.79" fill="#fef6f6"/><rect x="1832.71" y="893.09" width="27.87" height="27.79" fill="#fef3f3"/><rect x="1860.08" y="893.09" width="27.87" height="27.79" fill="#fef3f3"/><rect x="1887.45" y="893.09" width="27.87" height="27.79" fill="#fce6e7"/><rect x="1914.82" y="893.09" width="27.87" height="27.79" fill="#f7afa4"/><rect x="1942.19" y="893.09" width="27.87" height="27.79" fill="#f7afa4"/><rect x="1969.56" y="893.09" width="27.87" height="27.79" fill="#fef3f3"/><rect x="1996.93" y="893.09" width="27.87" height="27.79" fill="#f9f9fc"/><rect x="2024.30" y="893.09" width="27.37" height="27.79" fill="#f7f7fb"/><rect x="1750.10" y="920.38" width="28.37" height="27.79" fill="#f7f7fb"/><rect x="1777.97" y="920.38" width="27.87" height="27.79" fill="#fffdfd"/><rect x="1805.34" y="920.38" width="27.87" height="27.79" fill="#fefafa"/><rect x="1832.71" y="920.38" width="27.87" height="27.79" fill="#fefafa"/><rect x="1860.08" y="920.38" width="27.87" height="27.79" fill="#fef3f3"/><rect x="1887.45" y="920.38" width="27.87" height="27.79" fill="#fef3f3"/><rect x="1914.82" y="920.38" width="27.87" height="27.79" fill="#fce0e0"/><rect x="1942.19" y="920.38" width="27.87" height="27.79" fill="#f2806a"/><rect x="1969.56" y="920.38" width="27.87" height="27.79" fill="#fef3f3"/><rect x="1996.93" y="920.38" width="27.87" height="27.79" fill="#f9f9fc"/><rect x="2024.30" y="920.38" width="27.37" height="27.79" fill="#f7f7fb"/><rect x="1777.97" y="947.67" width="27.87" height="27.79" fill="#fffdfd"/><rect x="1832.71" y="947.67" width="27.87" height="27.79" fill="#fefaf6"/><rect x="1860.08" y="947.67" width="27.87" height="27.79" fill="#fefaf6"/><rect x="1887.45" y="947.67" width="27.87" height="27.79" fill="#fef3f3"/><rect x="1914.82" y="947.67" width="27.87" height="27.79" fill="#fef3f3"/><rect x="1942.19" y="947.67" width="27.87" height="27.79" fill="#f7afa4"/><rect x="1969.56" y="947.67" width="27.87" height="27.79" fill="#fef3f3"/><rect x="1996.93" y="947.67" width="27.87" height="27.79" fill="#f9f9fc"/><rect x="2024.30" y="947.67" width="27.37" height="27.79" fill="#f7f7fb"/><rect x="1750.10" y="974.96" width="28.37" height="27.79" fill="#fdfdfe"/><rect x="1777.97" y="974.96" width="27.87" height="27.79" fill="#f9fcfd"/><rect x="1832.71" y="974.96" width="27.87" height="27.79" fill="#fdfdfe"/><rect x="1887.45" y="974.96" width="27.87" height="27.79" fill="#fef6f6"/><rect x="1914.82" y="974.96" width="27.87" height="27.79" fill="#fef6f6"/><rect x="1942.19" y="974.96" width="27.87" height="27.79" fill="#fce0e0"/><rect x="1969.56" y="974.96" width="27.87" height="27.79" fill="#fef3f3"/><rect x="1996.93" y="974.96" width="27.87" height="27.79" fill="#f9f9fc"/><rect x="2024.30" y="974.96" width="27.37" height="27.79" fill="#f7f7fb"/><rect x="1750.10" y="1002.25" width="28.37" height="27.79" fill="#fffdfd"/><rect x="1777.97" y="1002.25" width="27.87" height="27.79" fill="#f9fcfd"/><rect x="1942.19" y="1002.25" width="27.87" height="27.79" fill="#fefaf6"/><rect x="1969.56" y="1002.25" width="27.87" height="27.79" fill="#f3f3f9"/><rect x="1996.93" y="1002.25" width="27.87" height="27.79" fill="#f7f7fb"/><rect x="2024.30" y="1002.25" width="27.37" height="27.79" fill="#f9f9fc"/><rect x="1860.08" y="1029.54" width="27.87" height="27.96" fill="#fdfdfe"/><rect x="1887.45" y="1029.54" width="27.87" height="27.96" fill="#fdfdfe"/><rect x="1942.19" y="1029.54" width="27.87" height="27.96" fill="#fefaf6"/><rect x="1969.56" y="1029.54" width="27.87" height="27.96" fill="#ededf6"/><rect x="1996.93" y="1029.54" width="27.87" height="27.96" fill="#f3f3f9"/><rect x="2024.30" y="1029.54" width="27.37" height="27.96" fill="#f3f3f9"/></g>
<rect x="1746.20" y="726.65" width="3.90" height="332.80" fill="#000"/>
<rect x="1748.15" y="1057.50" width="306.02" height="3.90" fill="#000"/>
<rect x="1742.80" y="741.20" width="3.4" height="3.6" fill="#333333"/><rect x="1742.80" y="768.49" width="3.4" height="3.6" fill="#333333"/><rect x="1742.80" y="795.78" width="3.4" height="3.6" fill="#333333"/><rect x="1742.80" y="823.07" width="3.4" height="3.6" fill="#333333"/><rect x="1742.80" y="850.36" width="3.4" height="3.6" fill="#333333"/><rect x="1742.80" y="877.65" width="3.4" height="3.6" fill="#333333"/><rect x="1742.80" y="904.94" width="3.4" height="3.6" fill="#333333"/><rect x="1742.80" y="932.23" width="3.4" height="3.6" fill="#333333"/><rect x="1742.80" y="959.52" width="3.4" height="3.6" fill="#333333"/><rect x="1742.80" y="986.81" width="3.4" height="3.6" fill="#333333"/><rect x="1742.80" y="1014.10" width="3.4" height="3.6" fill="#333333"/><rect x="1742.80" y="1041.38" width="3.4" height="3.6" fill="#333333"/><rect x="1762.28" y="1061.40" width="4.0" height="3.2" fill="#333333"/><rect x="1789.65" y="1061.40" width="4.0" height="3.2" fill="#333333"/><rect x="1817.02" y="1061.40" width="4.0" height="3.2" fill="#333333"/><rect x="1844.39" y="1061.40" width="4.0" height="3.2" fill="#333333"/><rect x="1871.76" y="1061.40" width="4.0" height="3.2" fill="#333333"/><rect x="1899.13" y="1061.40" width="4.0" height="3.2" fill="#333333"/><rect x="1926.50" y="1061.40" width="4.0" height="3.2" fill="#333333"/><rect x="1953.88" y="1061.40" width="4.0" height="3.2" fill="#333333"/><rect x="1981.24" y="1061.40" width="4.0" height="3.2" fill="#333333"/><rect x="2008.61" y="1061.40" width="4.0" height="3.2" fill="#333333"/><rect x="2035.98" y="1061.40" width="4.0" height="3.2" fill="#333333"/>
<text x="1736.10" y="749.50" font-size="24" text-anchor="end">1000</text><text x="1736.10" y="776.79" font-size="24" text-anchor="end">500</text><text x="1736.10" y="804.08" font-size="24" text-anchor="end">250</text><text x="1736.10" y="831.37" font-size="24" text-anchor="end">125</text><text x="1736.10" y="858.65" font-size="24" text-anchor="end">63</text><text x="1736.10" y="885.95" font-size="24" text-anchor="end">31</text><text x="1736.10" y="913.24" font-size="24" text-anchor="end">16</text><text x="1736.10" y="940.52" font-size="24" text-anchor="end">7.8</text><text x="1736.10" y="967.82" font-size="24" text-anchor="end">3.9</text><text x="1736.10" y="995.11" font-size="24" text-anchor="end">2.0</text><text x="1736.10" y="1022.39" font-size="24" text-anchor="end">0.98</text><text x="1736.10" y="1049.68" font-size="24" text-anchor="end">0.49</text><text transform="translate(1772.38 1068.10) rotate(-90)" font-size="24" text-anchor="end">0.039</text><text transform="translate(1799.75 1068.10) rotate(-90)" font-size="24" text-anchor="end">0.078</text><text transform="translate(1827.12 1068.10) rotate(-90)" font-size="24" text-anchor="end">0.16</text><text transform="translate(1854.49 1068.10) rotate(-90)" font-size="24" text-anchor="end">0.31</text><text transform="translate(1881.86 1068.10) rotate(-90)" font-size="24" text-anchor="end">0.63</text><text transform="translate(1909.23 1068.10) rotate(-90)" font-size="24" text-anchor="end">1.3</text><text transform="translate(1936.60 1068.10) rotate(-90)" font-size="24" text-anchor="end">2.5</text><text transform="translate(1963.97 1068.10) rotate(-90)" font-size="24" text-anchor="end">5</text><text transform="translate(1991.34 1068.10) rotate(-90)" font-size="24" text-anchor="end">10</text><text transform="translate(2018.71 1068.10) rotate(-90)" font-size="24" text-anchor="end">20</text><text transform="translate(2046.08 1068.10) rotate(-90)" font-size="24" text-anchor="end">40</text>
<text x="1655.54" y="638.70" font-size="31.75" font-weight="bold"><tspan font-style="italic">MCL1</tspan>: navitoclax x S63845</text>
<text x="1701.48" y="676.70" font-size="31.75" font-weight="bold">VMCUB1 (high MCL1)</text>
<text x="1733.08" y="714.50" font-size="31.75" font-weight="bold">F = 86.0 p &lt; 2e-16</text>
<text x="1827.20" y="1172.30" font-size="31.70">Navitoclax (µM)</text>
<text transform="translate(1663.80 900.75) rotate(-90)" font-size="31.70" text-anchor="middle">S63845 (nM)</text>
<g shape-rendering="crispEdges"><rect x="146.10" y="1405.97" width="30.61" height="29.57" fill="#fbfbfd"/><rect x="176.21" y="1405.97" width="29.52" height="29.57" fill="#fbfbfd"/><rect x="234.25" y="1405.97" width="29.52" height="29.57" fill="#fbfbfd"/><rect x="321.31" y="1405.97" width="29.52" height="29.57" fill="#fbfbfd"/><rect x="350.33" y="1405.97" width="29.52" height="29.57" fill="#fdf0f0"/><rect x="379.35" y="1405.97" width="29.52" height="29.57" fill="#fce9ea"/><rect x="408.37" y="1405.97" width="29.52" height="29.57" fill="#fefaf6"/><rect x="146.10" y="1435.04" width="30.61" height="29.57" fill="#fbfbfd"/><rect x="176.21" y="1435.04" width="29.52" height="29.57" fill="#f7f7fb"/><rect x="205.23" y="1435.04" width="29.52" height="29.57" fill="#f9fcfd"/><rect x="321.31" y="1435.04" width="29.52" height="29.57" fill="#f9fcfd"/><rect x="350.33" y="1435.04" width="29.52" height="29.57" fill="#fdf0f0"/><rect x="379.35" y="1435.04" width="29.52" height="29.57" fill="#fceced"/><rect x="408.37" y="1435.04" width="29.52" height="29.57" fill="#fef6f6"/><rect x="437.39" y="1435.04" width="29.02" height="29.57" fill="#fef6f6"/><rect x="176.21" y="1464.11" width="29.52" height="29.57" fill="#f9fcfd"/><rect x="205.23" y="1464.11" width="29.52" height="29.57" fill="#f9fcfd"/><rect x="234.25" y="1464.11" width="29.52" height="29.57" fill="#fefaf6"/><rect x="263.27" y="1464.11" width="29.52" height="29.57" fill="#fefaf6"/><rect x="321.31" y="1464.11" width="29.52" height="29.57" fill="#f9fcfd"/><rect x="350.33" y="1464.11" width="29.52" height="29.57" fill="#fdf0f0"/><rect x="379.35" y="1464.11" width="29.52" height="29.57" fill="#fceced"/><rect x="408.37" y="1464.11" width="29.52" height="29.57" fill="#fefaf6"/><rect x="146.10" y="1493.18" width="30.61" height="29.57" fill="#f7f7fb"/><rect x="205.23" y="1493.18" width="29.52" height="29.57" fill="#fbfbfd"/><rect x="234.25" y="1493.18" width="29.52" height="29.57" fill="#fef6f6"/><rect x="321.31" y="1493.18" width="29.52" height="29.57" fill="#fbfbfd"/><rect x="350.33" y="1493.18" width="29.52" height="29.57" fill="#fdf0f0"/><rect x="379.35" y="1493.18" width="29.52" height="29.57" fill="#fceced"/><rect x="408.37" y="1493.18" width="29.52" height="29.57" fill="#fefaf6"/><rect x="146.10" y="1522.25" width="30.61" height="29.57" fill="#fbfbfd"/><rect x="205.23" y="1522.25" width="29.52" height="29.57" fill="#fef6f6"/><rect x="234.25" y="1522.25" width="29.52" height="29.57" fill="#f9fcfd"/><rect x="263.27" y="1522.25" width="29.52" height="29.57" fill="#fef6f6"/><rect x="350.33" y="1522.25" width="29.52" height="29.57" fill="#fef6f6"/><rect x="379.35" y="1522.25" width="29.52" height="29.57" fill="#fdf0f0"/><rect x="408.37" y="1522.25" width="29.52" height="29.57" fill="#fefaf6"/><rect x="176.21" y="1551.32" width="29.52" height="29.57" fill="#fefaf6"/><rect x="205.23" y="1551.32" width="29.52" height="29.57" fill="#fbfbfd"/><rect x="263.27" y="1551.32" width="29.52" height="29.57" fill="#fef6f6"/><rect x="350.33" y="1551.32" width="29.52" height="29.57" fill="#fef6f6"/><rect x="379.35" y="1551.32" width="29.52" height="29.57" fill="#fdf0f0"/><rect x="437.39" y="1551.32" width="29.02" height="29.57" fill="#fefaf6"/><rect x="234.25" y="1580.39" width="29.52" height="29.57" fill="#fef6f6"/><rect x="321.31" y="1580.39" width="29.52" height="29.57" fill="#f7f7fb"/><rect x="379.35" y="1580.39" width="29.52" height="29.57" fill="#fef6f6"/><rect x="146.10" y="1609.46" width="30.61" height="29.57" fill="#f9fcfd"/><rect x="379.35" y="1609.46" width="29.52" height="29.57" fill="#fef6f6"/><rect x="408.37" y="1609.46" width="29.52" height="29.57" fill="#fefaf6"/><rect x="146.10" y="1638.53" width="30.61" height="29.57" fill="#f9fcfd"/><rect x="176.21" y="1638.53" width="29.52" height="29.57" fill="#f9fcfd"/><rect x="321.31" y="1638.53" width="29.52" height="29.57" fill="#f7f7fb"/><rect x="379.35" y="1638.53" width="29.52" height="29.57" fill="#fef6f6"/><rect x="408.37" y="1638.53" width="29.52" height="29.57" fill="#fef6f6"/><rect x="146.10" y="1667.60" width="30.61" height="29.57" fill="#f9fcfd"/><rect x="234.25" y="1667.60" width="29.52" height="29.57" fill="#fdf0f0"/><rect x="263.27" y="1667.60" width="29.52" height="29.57" fill="#fef6f6"/><rect x="321.31" y="1667.60" width="29.52" height="29.57" fill="#f7f7fb"/><rect x="146.10" y="1696.67" width="30.61" height="29.93" fill="#fbfbfd"/><rect x="321.31" y="1696.67" width="29.52" height="29.93" fill="#f7f7fb"/><rect x="350.33" y="1696.67" width="29.52" height="29.93" fill="#fbfbfd"/></g>
<rect x="142.30" y="1403.27" width="3.80" height="325.28" fill="#000"/>
<rect x="144.20" y="1726.60" width="324.71" height="3.90" fill="#000"/>
<rect x="138.90" y="1418.71" width="3.4" height="3.6" fill="#333333"/><rect x="138.90" y="1447.78" width="3.4" height="3.6" fill="#333333"/><rect x="138.90" y="1476.85" width="3.4" height="3.6" fill="#333333"/><rect x="138.90" y="1505.92" width="3.4" height="3.6" fill="#333333"/><rect x="138.90" y="1534.99" width="3.4" height="3.6" fill="#333333"/><rect x="138.90" y="1564.06" width="3.4" height="3.6" fill="#333333"/><rect x="138.90" y="1593.12" width="3.4" height="3.6" fill="#333333"/><rect x="138.90" y="1622.20" width="3.4" height="3.6" fill="#333333"/><rect x="138.90" y="1651.27" width="3.4" height="3.6" fill="#333333"/><rect x="138.90" y="1680.34" width="3.4" height="3.6" fill="#333333"/><rect x="138.90" y="1709.40" width="3.4" height="3.6" fill="#333333"/><rect x="159.70" y="1730.50" width="4.0" height="3.2" fill="#333333"/><rect x="188.72" y="1730.50" width="4.0" height="3.2" fill="#333333"/><rect x="217.74" y="1730.50" width="4.0" height="3.2" fill="#333333"/><rect x="246.76" y="1730.50" width="4.0" height="3.2" fill="#333333"/><rect x="275.78" y="1730.50" width="4.0" height="3.2" fill="#333333"/><rect x="304.80" y="1730.50" width="4.0" height="3.2" fill="#333333"/><rect x="333.82" y="1730.50" width="4.0" height="3.2" fill="#333333"/><rect x="362.84" y="1730.50" width="4.0" height="3.2" fill="#333333"/><rect x="391.86" y="1730.50" width="4.0" height="3.2" fill="#333333"/><rect x="420.88" y="1730.50" width="4.0" height="3.2" fill="#333333"/><rect x="449.90" y="1730.50" width="4.0" height="3.2" fill="#333333"/>
<text x="131.10" y="1426.91" font-size="24" text-anchor="end">4000</text><text x="131.10" y="1455.98" font-size="24" text-anchor="end">2000</text><text x="131.10" y="1485.05" font-size="24" text-anchor="end">1000</text><text x="131.10" y="1514.12" font-size="24" text-anchor="end">500</text><text x="131.10" y="1543.19" font-size="24" text-anchor="end">250</text><text x="131.10" y="1572.26" font-size="24" text-anchor="end">125</text><text x="131.10" y="1601.33" font-size="24" text-anchor="end">63</text><text x="131.10" y="1630.40" font-size="24" text-anchor="end">31</text><text x="131.10" y="1659.47" font-size="24" text-anchor="end">16</text><text x="131.10" y="1688.54" font-size="24" text-anchor="end">7.8</text><text x="131.10" y="1717.61" font-size="24" text-anchor="end">3.9</text><text transform="translate(168.70 1738.10) rotate(-90)" font-size="24" text-anchor="end">2.0</text><text transform="translate(197.72 1738.10) rotate(-90)" font-size="24" text-anchor="end">3.9</text><text transform="translate(226.74 1738.10) rotate(-90)" font-size="24" text-anchor="end">7.8</text><text transform="translate(255.76 1738.10) rotate(-90)" font-size="24" text-anchor="end">16</text><text transform="translate(284.78 1738.10) rotate(-90)" font-size="24" text-anchor="end">31</text><text transform="translate(313.80 1738.10) rotate(-90)" font-size="24" text-anchor="end">63</text><text transform="translate(342.82 1738.10) rotate(-90)" font-size="24" text-anchor="end">125</text><text transform="translate(371.84 1738.10) rotate(-90)" font-size="24" text-anchor="end">250</text><text transform="translate(400.86 1738.10) rotate(-90)" font-size="24" text-anchor="end">500</text><text transform="translate(429.88 1738.10) rotate(-90)" font-size="24" text-anchor="end">1000</text><text transform="translate(458.90 1738.10) rotate(-90)" font-size="24" text-anchor="end">2000</text>
<text x="21.64" y="1309.60" font-size="31.75" font-weight="bold"><tspan font-style="italic">BCL2L1</tspan>: doxorubicin x WEHI-539</text>
<text x="130.48" y="1344.10" font-size="31.75" font-weight="bold">KO52 (low BCL2L1)</text>
<text x="151.68" y="1381.90" font-size="31.75" font-weight="bold">F = 2.85, p = 0.09</text>
<text x="190.20" y="1840.70" font-size="31.70">Doxorubicin (nM)</text>
<text transform="translate(42.70 1567.10) rotate(-90)" font-size="31.70" text-anchor="middle">WEHI−539 (nM)</text>
<g shape-rendering="crispEdges"><rect x="683.30" y="1518.60" width="23.64" height="23.46" fill="#f7f7fb"/><rect x="729.33" y="1518.60" width="23.39" height="23.46" fill="#fefaf6"/><rect x="752.22" y="1518.60" width="23.39" height="23.46" fill="#f9fcfd"/><rect x="798.00" y="1518.60" width="23.39" height="23.46" fill="#fef6f6"/><rect x="820.89" y="1518.60" width="23.39" height="23.46" fill="#fce0e0"/><rect x="843.78" y="1518.60" width="23.39" height="23.46" fill="#fbdcdd"/><rect x="866.67" y="1518.60" width="23.39" height="23.46" fill="#fad3d5"/><rect x="889.56" y="1518.60" width="23.39" height="23.46" fill="#fad3d5"/><rect x="912.45" y="1518.60" width="23.39" height="23.46" fill="#fad8d9"/><rect x="935.34" y="1518.60" width="23.39" height="23.46" fill="#fad8d9"/><rect x="958.23" y="1518.60" width="23.39" height="23.46" fill="#fad8d9"/><rect x="981.12" y="1518.60" width="22.89" height="23.46" fill="#fad8d9"/><rect x="775.11" y="1541.56" width="23.39" height="23.46" fill="#f7f7fb"/><rect x="820.89" y="1541.56" width="23.39" height="23.46" fill="#fce9ea"/><rect x="843.78" y="1541.56" width="23.39" height="23.46" fill="#fbdcdd"/><rect x="866.67" y="1541.56" width="23.39" height="23.46" fill="#fad8d9"/><rect x="889.56" y="1541.56" width="23.39" height="23.46" fill="#fad8d9"/><rect x="912.45" y="1541.56" width="23.39" height="23.46" fill="#fad8d9"/><rect x="935.34" y="1541.56" width="23.39" height="23.46" fill="#fad8d9"/><rect x="958.23" y="1541.56" width="23.39" height="23.46" fill="#fad8d9"/><rect x="981.12" y="1541.56" width="22.89" height="23.46" fill="#fad8d9"/><rect x="706.44" y="1564.52" width="23.39" height="23.46" fill="#f7f7fb"/><rect x="729.33" y="1564.52" width="23.39" height="23.46" fill="#f9fcfd"/><rect x="820.89" y="1564.52" width="23.39" height="23.46" fill="#fce0e0"/><rect x="843.78" y="1564.52" width="23.39" height="23.46" fill="#fbdcdd"/><rect x="866.67" y="1564.52" width="23.39" height="23.46" fill="#fad3d5"/><rect x="889.56" y="1564.52" width="23.39" height="23.46" fill="#fad3d5"/><rect x="912.45" y="1564.52" width="23.39" height="23.46" fill="#fad8d9"/><rect x="935.34" y="1564.52" width="23.39" height="23.46" fill="#fad8d9"/><rect x="958.23" y="1564.52" width="23.39" height="23.46" fill="#fad8d9"/><rect x="981.12" y="1564.52" width="22.89" height="23.46" fill="#fad3d5"/><rect x="729.33" y="1587.48" width="23.39" height="23.46" fill="#f5f5fa"/><rect x="820.89" y="1587.48" width="23.39" height="23.46" fill="#fefaf6"/><rect x="843.78" y="1587.48" width="23.39" height="23.46" fill="#fce9ea"/><rect x="866.67" y="1587.48" width="23.39" height="23.46" fill="#fad8d9"/><rect x="889.56" y="1587.48" width="23.39" height="23.46" fill="#fad8d9"/><rect x="912.45" y="1587.48" width="23.39" height="23.46" fill="#fad8d9"/><rect x="935.34" y="1587.48" width="23.39" height="23.46" fill="#fad8d9"/><rect x="958.23" y="1587.48" width="23.39" height="23.46" fill="#fad8d9"/><rect x="981.12" y="1587.48" width="22.89" height="23.46" fill="#fad8d9"/><rect x="683.30" y="1610.44" width="23.64" height="23.46" fill="#f7f7fb"/><rect x="729.33" y="1610.44" width="23.39" height="23.46" fill="#f9fcfd"/><rect x="752.22" y="1610.44" width="23.39" height="23.46" fill="#f7f7fb"/><rect x="775.11" y="1610.44" width="23.39" height="23.46" fill="#f7f7fb"/><rect x="798.00" y="1610.44" width="23.39" height="23.46" fill="#f9fcfd"/><rect x="820.89" y="1610.44" width="23.39" height="23.46" fill="#f9fcfd"/><rect x="843.78" y="1610.44" width="23.39" height="23.46" fill="#fefaf6"/><rect x="866.67" y="1610.44" width="23.39" height="23.46" fill="#fdf0f0"/><rect x="889.56" y="1610.44" width="23.39" height="23.46" fill="#fce9ea"/><rect x="912.45" y="1610.44" width="23.39" height="23.46" fill="#fdf0f0"/><rect x="935.34" y="1610.44" width="23.39" height="23.46" fill="#fce9ea"/><rect x="958.23" y="1610.44" width="23.39" height="23.46" fill="#fce0e0"/><rect x="981.12" y="1610.44" width="22.89" height="23.46" fill="#fce9ea"/><rect x="683.30" y="1633.40" width="23.64" height="23.46" fill="#fef6f6"/><rect x="752.22" y="1633.40" width="23.39" height="23.46" fill="#f7f7fb"/><rect x="775.11" y="1633.40" width="23.39" height="23.46" fill="#f3f3f9"/><rect x="820.89" y="1633.40" width="23.39" height="23.46" fill="#f7f7fb"/><rect x="843.78" y="1633.40" width="23.39" height="23.46" fill="#fefaf6"/><rect x="866.67" y="1633.40" width="23.39" height="23.46" fill="#fefaf6"/><rect x="889.56" y="1633.40" width="23.39" height="23.46" fill="#fdf0f0"/><rect x="912.45" y="1633.40" width="23.39" height="23.46" fill="#fdf0f0"/><rect x="935.34" y="1633.40" width="23.39" height="23.46" fill="#fdf0f0"/><rect x="958.23" y="1633.40" width="23.39" height="23.46" fill="#fce0e0"/><rect x="981.12" y="1633.40" width="22.89" height="23.46" fill="#fdf0f0"/><rect x="706.44" y="1656.36" width="23.39" height="23.46" fill="#f7f7fb"/><rect x="729.33" y="1656.36" width="23.39" height="23.46" fill="#f9fcfd"/><rect x="752.22" y="1656.36" width="23.39" height="23.46" fill="#f9fcfd"/><rect x="798.00" y="1656.36" width="23.39" height="23.46" fill="#f7f7fb"/><rect x="820.89" y="1656.36" width="23.39" height="23.46" fill="#f7f7fb"/><rect x="866.67" y="1656.36" width="23.39" height="23.46" fill="#f9fcfd"/><rect x="912.45" y="1656.36" width="23.39" height="23.46" fill="#fef3f3"/><rect x="935.34" y="1656.36" width="23.39" height="23.46" fill="#fef3f3"/><rect x="958.23" y="1656.36" width="23.39" height="23.46" fill="#fce0e0"/><rect x="981.12" y="1656.36" width="22.89" height="23.46" fill="#fdf0f0"/><rect x="683.30" y="1679.32" width="23.64" height="23.46" fill="#f7f7fb"/><rect x="706.44" y="1679.32" width="23.39" height="23.46" fill="#f7f7fb"/><rect x="798.00" y="1679.32" width="23.39" height="23.46" fill="#f7f7fb"/><rect x="820.89" y="1679.32" width="23.39" height="23.46" fill="#f7f7fb"/><rect x="935.34" y="1679.32" width="23.39" height="23.46" fill="#fefafa"/><rect x="958.23" y="1679.32" width="23.39" height="23.46" fill="#fceced"/><rect x="981.12" y="1679.32" width="22.89" height="23.46" fill="#fceced"/><rect x="683.30" y="1702.28" width="23.64" height="23.02" fill="#fef6f6"/><rect x="706.44" y="1702.28" width="23.39" height="23.02" fill="#f7f7fb"/><rect x="752.22" y="1702.28" width="23.39" height="23.02" fill="#fbfbfd"/><rect x="775.11" y="1702.28" width="23.39" height="23.02" fill="#f7f7fb"/><rect x="820.89" y="1702.28" width="23.39" height="23.02" fill="#f7f7fb"/><rect x="843.78" y="1702.28" width="23.39" height="23.02" fill="#f7f7fb"/><rect x="866.67" y="1702.28" width="23.39" height="23.02" fill="#f7f7fb"/><rect x="889.56" y="1702.28" width="23.39" height="23.02" fill="#fbfbfd"/><rect x="935.34" y="1702.28" width="23.39" height="23.02" fill="#fffcfc"/><rect x="958.23" y="1702.28" width="23.39" height="23.02" fill="#fceced"/><rect x="981.12" y="1702.28" width="22.89" height="23.02" fill="#fceced"/></g>
<rect x="679.10" y="1515.90" width="4.20" height="211.50" fill="#000"/>
<rect x="681.20" y="1725.30" width="325.31" height="4.20" fill="#000"/>
<rect x="675.70" y="1528.28" width="3.4" height="3.6" fill="#333333"/><rect x="675.70" y="1551.24" width="3.4" height="3.6" fill="#333333"/><rect x="675.70" y="1574.20" width="3.4" height="3.6" fill="#333333"/><rect x="675.70" y="1597.16" width="3.4" height="3.6" fill="#333333"/><rect x="675.70" y="1620.12" width="3.4" height="3.6" fill="#333333"/><rect x="675.70" y="1643.08" width="3.4" height="3.6" fill="#333333"/><rect x="675.70" y="1666.04" width="3.4" height="3.6" fill="#333333"/><rect x="675.70" y="1689.00" width="3.4" height="3.6" fill="#333333"/><rect x="675.70" y="1711.96" width="3.4" height="3.6" fill="#333333"/><rect x="693.00" y="1729.50" width="4.0" height="3.2" fill="#333333"/><rect x="715.88" y="1729.50" width="4.0" height="3.2" fill="#333333"/><rect x="738.77" y="1729.50" width="4.0" height="3.2" fill="#333333"/><rect x="761.66" y="1729.50" width="4.0" height="3.2" fill="#333333"/><rect x="784.55" y="1729.50" width="4.0" height="3.2" fill="#333333"/><rect x="807.44" y="1729.50" width="4.0" height="3.2" fill="#333333"/><rect x="830.33" y="1729.50" width="4.0" height="3.2" fill="#333333"/><rect x="853.22" y="1729.50" width="4.0" height="3.2" fill="#333333"/><rect x="876.12" y="1729.50" width="4.0" height="3.2" fill="#333333"/><rect x="899.00" y="1729.50" width="4.0" height="3.2" fill="#333333"/><rect x="921.89" y="1729.50" width="4.0" height="3.2" fill="#333333"/><rect x="944.78" y="1729.50" width="4.0" height="3.2" fill="#333333"/><rect x="967.67" y="1729.50" width="4.0" height="3.2" fill="#333333"/><rect x="990.56" y="1729.50" width="4.0" height="3.2" fill="#333333"/>
<text x="671.10" y="1538.78" font-size="24" text-anchor="end">4000</text><text x="671.10" y="1561.74" font-size="24" text-anchor="end">2000</text><text x="671.10" y="1584.70" font-size="24" text-anchor="end">1000</text><text x="671.10" y="1607.66" font-size="24" text-anchor="end">500</text><text x="671.10" y="1630.62" font-size="24" text-anchor="end">250</text><text x="671.10" y="1653.58" font-size="24" text-anchor="end">125</text><text x="671.10" y="1676.54" font-size="24" text-anchor="end">63</text><text x="671.10" y="1699.50" font-size="24" text-anchor="end">31</text><text x="671.10" y="1722.46" font-size="24" text-anchor="end">16</text><text transform="translate(706.89 1738.10) rotate(-90)" font-size="24" text-anchor="end">0.49</text><text transform="translate(729.78 1738.10) rotate(-90)" font-size="24" text-anchor="end">0.98</text><text transform="translate(752.67 1738.10) rotate(-90)" font-size="24" text-anchor="end">2.0</text><text transform="translate(775.56 1738.10) rotate(-90)" font-size="24" text-anchor="end">3.9</text><text transform="translate(798.45 1738.10) rotate(-90)" font-size="24" text-anchor="end">7.8</text><text transform="translate(821.34 1738.10) rotate(-90)" font-size="24" text-anchor="end">16</text><text transform="translate(844.23 1738.10) rotate(-90)" font-size="24" text-anchor="end">31</text><text transform="translate(867.12 1738.10) rotate(-90)" font-size="24" text-anchor="end">63</text><text transform="translate(890.01 1738.10) rotate(-90)" font-size="24" text-anchor="end">125</text><text transform="translate(912.90 1738.10) rotate(-90)" font-size="24" text-anchor="end">250</text><text transform="translate(935.79 1738.10) rotate(-90)" font-size="24" text-anchor="end">500</text><text transform="translate(958.68 1738.10) rotate(-90)" font-size="24" text-anchor="end">1000</text><text transform="translate(981.57 1738.10) rotate(-90)" font-size="24" text-anchor="end">2000</text><text transform="translate(1004.46 1738.10) rotate(-90)" font-size="24" text-anchor="end">4000</text>
<text x="552.54" y="1309.60" font-size="31.75" font-weight="bold"><tspan font-style="italic">BCL2L1</tspan>: doxorubicin x WEHI-539</text>
<text x="641.08" y="1344.10" font-size="31.75" font-weight="bold">RT4 (medium BCL2L1)</text>
<text x="675.58" y="1381.90" font-size="31.75" font-weight="bold">F = 8.95, p &lt; 2e-16</text>
<text x="762.20" y="1840.70" font-size="31.70">Doxorubicin (nM)</text>
<text transform="translate(596.50 1623.50) rotate(-90)" font-size="31.70" text-anchor="middle">WEHI−539 (nM)</text>
<g shape-rendering="crispEdges"><rect x="1210.10" y="1611.00" width="23.95" height="23.50" fill="#f9fcfd"/><rect x="1256.45" y="1611.00" width="23.40" height="23.50" fill="#fefaf6"/><rect x="1279.35" y="1611.00" width="23.40" height="23.50" fill="#fef6f6"/><rect x="1302.25" y="1611.00" width="23.40" height="23.50" fill="#fdf0f0"/><rect x="1325.15" y="1611.00" width="23.40" height="23.50" fill="#fdf0f0"/><rect x="1348.05" y="1611.00" width="23.40" height="23.50" fill="#fef6f6"/><rect x="1393.85" y="1611.00" width="23.40" height="23.50" fill="#fdf0f0"/><rect x="1416.75" y="1611.00" width="23.40" height="23.50" fill="#fdf0f0"/><rect x="1439.65" y="1611.00" width="23.40" height="23.50" fill="#fdf0f0"/><rect x="1462.55" y="1611.00" width="23.40" height="23.50" fill="#fce9ea"/><rect x="1485.45" y="1611.00" width="23.40" height="23.50" fill="#fce9ea"/><rect x="1508.35" y="1611.00" width="22.90" height="23.50" fill="#fce9ea"/><rect x="1210.10" y="1634.00" width="23.95" height="23.50" fill="#fef6f6"/><rect x="1256.45" y="1634.00" width="23.40" height="23.50" fill="#fefaf6"/><rect x="1279.35" y="1634.00" width="23.40" height="23.50" fill="#fefaf6"/><rect x="1302.25" y="1634.00" width="23.40" height="23.50" fill="#fdf0f0"/><rect x="1325.15" y="1634.00" width="23.40" height="23.50" fill="#fdf0f0"/><rect x="1393.85" y="1634.00" width="23.40" height="23.50" fill="#fdf0f0"/><rect x="1416.75" y="1634.00" width="23.40" height="23.50" fill="#fef6f6"/><rect x="1439.65" y="1634.00" width="23.40" height="23.50" fill="#fdf0f0"/><rect x="1462.55" y="1634.00" width="23.40" height="23.50" fill="#fce9ea"/><rect x="1485.45" y="1634.00" width="23.40" height="23.50" fill="#fce9ea"/><rect x="1508.35" y="1634.00" width="22.90" height="23.50" fill="#fce9ea"/><rect x="1233.55" y="1657.00" width="23.40" height="23.50" fill="#fbfbfd"/><rect x="1256.45" y="1657.00" width="23.40" height="23.50" fill="#f9fcfd"/><rect x="1348.05" y="1657.00" width="23.40" height="23.50" fill="#fef6f6"/><rect x="1370.95" y="1657.00" width="23.40" height="23.50" fill="#fef6f6"/><rect x="1393.85" y="1657.00" width="23.40" height="23.50" fill="#fef6f6"/><rect x="1416.75" y="1657.00" width="23.40" height="23.50" fill="#fef6f6"/><rect x="1462.55" y="1657.00" width="23.40" height="23.50" fill="#fce9ea"/><rect x="1485.45" y="1657.00" width="23.40" height="23.50" fill="#fce9ea"/><rect x="1508.35" y="1657.00" width="22.90" height="23.50" fill="#fce9ea"/><rect x="1233.55" y="1680.00" width="23.40" height="23.50" fill="#fbfbfd"/><rect x="1302.25" y="1680.00" width="23.40" height="23.50" fill="#f9fcfd"/><rect x="1325.15" y="1680.00" width="23.40" height="23.50" fill="#fefaf6"/><rect x="1393.85" y="1680.00" width="23.40" height="23.50" fill="#fef6f6"/><rect x="1416.75" y="1680.00" width="23.40" height="23.50" fill="#fef6f6"/><rect x="1462.55" y="1680.00" width="23.40" height="23.50" fill="#fef6f6"/><rect x="1485.45" y="1680.00" width="23.40" height="23.50" fill="#fef6f6"/><rect x="1256.45" y="1703.00" width="23.40" height="23.40" fill="#fbfbfd"/><rect x="1279.35" y="1703.00" width="23.40" height="23.40" fill="#fbfbfd"/><rect x="1325.15" y="1703.00" width="23.40" height="23.40" fill="#f9fcfd"/><rect x="1348.05" y="1703.00" width="23.40" height="23.40" fill="#fbfbfd"/><rect x="1370.95" y="1703.00" width="23.40" height="23.40" fill="#fbfbfd"/><rect x="1439.65" y="1703.00" width="23.40" height="23.40" fill="#fbfbfd"/><rect x="1462.55" y="1703.00" width="23.40" height="23.40" fill="#fef6f6"/><rect x="1485.45" y="1703.00" width="23.40" height="23.40" fill="#fefaf6"/><rect x="1508.35" y="1703.00" width="22.90" height="23.40" fill="#fbfbfd"/></g>
<rect x="1206.20" y="1608.30" width="3.90" height="120.15" fill="#000"/>
<rect x="1208.15" y="1726.40" width="325.60" height="4.10" fill="#000"/>
<rect x="1202.80" y="1620.70" width="3.4" height="3.6" fill="#333333"/><rect x="1202.80" y="1643.70" width="3.4" height="3.6" fill="#333333"/><rect x="1202.80" y="1666.70" width="3.4" height="3.6" fill="#333333"/><rect x="1202.80" y="1689.70" width="3.4" height="3.6" fill="#333333"/><rect x="1202.80" y="1712.70" width="3.4" height="3.6" fill="#333333"/><rect x="1220.10" y="1730.50" width="4.0" height="3.2" fill="#333333"/><rect x="1243.00" y="1730.50" width="4.0" height="3.2" fill="#333333"/><rect x="1265.90" y="1730.50" width="4.0" height="3.2" fill="#333333"/><rect x="1288.80" y="1730.50" width="4.0" height="3.2" fill="#333333"/><rect x="1311.70" y="1730.50" width="4.0" height="3.2" fill="#333333"/><rect x="1334.60" y="1730.50" width="4.0" height="3.2" fill="#333333"/><rect x="1357.50" y="1730.50" width="4.0" height="3.2" fill="#333333"/><rect x="1380.40" y="1730.50" width="4.0" height="3.2" fill="#333333"/><rect x="1403.30" y="1730.50" width="4.0" height="3.2" fill="#333333"/><rect x="1426.20" y="1730.50" width="4.0" height="3.2" fill="#333333"/><rect x="1449.10" y="1730.50" width="4.0" height="3.2" fill="#333333"/><rect x="1472.00" y="1730.50" width="4.0" height="3.2" fill="#333333"/><rect x="1494.90" y="1730.50" width="4.0" height="3.2" fill="#333333"/><rect x="1517.80" y="1730.50" width="4.0" height="3.2" fill="#333333"/>
<text x="1197.40" y="1629.70" font-size="24" text-anchor="end">1000</text><text x="1197.40" y="1652.70" font-size="24" text-anchor="end">500</text><text x="1197.40" y="1675.70" font-size="24" text-anchor="end">250</text><text x="1197.40" y="1698.70" font-size="24" text-anchor="end">125</text><text x="1197.40" y="1721.70" font-size="24" text-anchor="end">63</text><text transform="translate(1231.40 1738.10) rotate(-90)" font-size="24" text-anchor="end">0.49</text><text transform="translate(1254.30 1738.10) rotate(-90)" font-size="24" text-anchor="end">0.98</text><text transform="translate(1277.20 1738.10) rotate(-90)" font-size="24" text-anchor="end">2.0</text><text transform="translate(1300.10 1738.10) rotate(-90)" font-size="24" text-anchor="end">3.9</text><text transform="translate(1323.00 1738.10) rotate(-90)" font-size="24" text-anchor="end">7.8</text><text transform="translate(1345.90 1738.10) rotate(-90)" font-size="24" text-anchor="end">16</text><text transform="translate(1368.80 1738.10) rotate(-90)" font-size="24" text-anchor="end">31</text><text transform="translate(1391.70 1738.10) rotate(-90)" font-size="24" text-anchor="end">63</text><text transform="translate(1414.60 1738.10) rotate(-90)" font-size="24" text-anchor="end">125</text><text transform="translate(1437.50 1738.10) rotate(-90)" font-size="24" text-anchor="end">250</text><text transform="translate(1460.40 1738.10) rotate(-90)" font-size="24" text-anchor="end">500</text><text transform="translate(1483.30 1738.10) rotate(-90)" font-size="24" text-anchor="end">1000</text><text transform="translate(1506.20 1738.10) rotate(-90)" font-size="24" text-anchor="end">2000</text><text transform="translate(1529.10 1738.10) rotate(-90)" font-size="24" text-anchor="end">4000</text>
<text x="1084.14" y="1309.60" font-size="31.75" font-weight="bold"><tspan font-style="italic">BCL2L1</tspan>: doxorubicin x WEHI-539</text>
<text x="1147.40" y="1348.30" font-size="31.75" font-weight="bold">COLO678 (high BCL2L1)</text>
<text x="1196.38" y="1386.10" font-size="31.75" font-weight="bold">F = 27.1, p &lt; 2e-16</text>
<text x="1254.30" y="1840.70" font-size="31.70">Doxorubicin (nM)</text>
<text transform="translate(1127.70 1686.20) rotate(-90)" font-size="31.70" text-anchor="middle">WEHI−539 (nM)</text>
<g shape-rendering="crispEdges"><rect x="1752.50" y="1519.96" width="23.74" height="23.39" fill="#f7f7fb"/><rect x="1798.63" y="1519.96" width="23.39" height="23.39" fill="#fefaf6"/><rect x="1821.51" y="1519.96" width="23.39" height="23.39" fill="#f9fcfd"/><rect x="1867.28" y="1519.96" width="23.39" height="23.39" fill="#fef6f6"/><rect x="1890.17" y="1519.96" width="23.39" height="23.39" fill="#fce0e0"/><rect x="1913.05" y="1519.96" width="23.39" height="23.39" fill="#fbdcdd"/><rect x="1935.94" y="1519.96" width="23.39" height="23.39" fill="#fad3d5"/><rect x="1958.82" y="1519.96" width="23.39" height="23.39" fill="#fad3d5"/><rect x="1981.71" y="1519.96" width="23.39" height="23.39" fill="#fad8d9"/><rect x="2004.59" y="1519.96" width="23.39" height="23.39" fill="#fad8d9"/><rect x="2027.48" y="1519.96" width="23.39" height="23.39" fill="#fad8d9"/><rect x="2050.36" y="1519.96" width="22.89" height="23.39" fill="#fad8d9"/><rect x="1844.40" y="1542.85" width="23.39" height="23.39" fill="#f7f7fb"/><rect x="1890.17" y="1542.85" width="23.39" height="23.39" fill="#fce9ea"/><rect x="1913.05" y="1542.85" width="23.39" height="23.39" fill="#fbdcdd"/><rect x="1935.94" y="1542.85" width="23.39" height="23.39" fill="#fad8d9"/><rect x="1958.82" y="1542.85" width="23.39" height="23.39" fill="#fad8d9"/><rect x="1981.71" y="1542.85" width="23.39" height="23.39" fill="#fad8d9"/><rect x="2004.59" y="1542.85" width="23.39" height="23.39" fill="#fad8d9"/><rect x="2027.48" y="1542.85" width="23.39" height="23.39" fill="#fad8d9"/><rect x="2050.36" y="1542.85" width="22.89" height="23.39" fill="#fad8d9"/><rect x="1775.74" y="1565.74" width="23.39" height="23.39" fill="#f7f7fb"/><rect x="1798.63" y="1565.74" width="23.39" height="23.39" fill="#f9fcfd"/><rect x="1890.17" y="1565.74" width="23.39" height="23.39" fill="#fce0e0"/><rect x="1913.05" y="1565.74" width="23.39" height="23.39" fill="#fbdcdd"/><rect x="1935.94" y="1565.74" width="23.39" height="23.39" fill="#fad3d5"/><rect x="1958.82" y="1565.74" width="23.39" height="23.39" fill="#fad3d5"/><rect x="1981.71" y="1565.74" width="23.39" height="23.39" fill="#fad8d9"/><rect x="2004.59" y="1565.74" width="23.39" height="23.39" fill="#fad8d9"/><rect x="2027.48" y="1565.74" width="23.39" height="23.39" fill="#fad8d9"/><rect x="2050.36" y="1565.74" width="22.89" height="23.39" fill="#fad3d5"/><rect x="1798.63" y="1588.63" width="23.39" height="23.39" fill="#f5f5fa"/><rect x="1890.17" y="1588.63" width="23.39" height="23.39" fill="#fefaf6"/><rect x="1913.05" y="1588.63" width="23.39" height="23.39" fill="#fce9ea"/><rect x="1935.94" y="1588.63" width="23.39" height="23.39" fill="#fad8d9"/><rect x="1958.82" y="1588.63" width="23.39" height="23.39" fill="#fad8d9"/><rect x="1981.71" y="1588.63" width="23.39" height="23.39" fill="#fad8d9"/><rect x="2004.59" y="1588.63" width="23.39" height="23.39" fill="#fad8d9"/><rect x="2027.48" y="1588.63" width="23.39" height="23.39" fill="#fad8d9"/><rect x="2050.36" y="1588.63" width="22.89" height="23.39" fill="#fad8d9"/><rect x="1752.50" y="1611.52" width="23.74" height="23.39" fill="#f7f7fb"/><rect x="1798.63" y="1611.52" width="23.39" height="23.39" fill="#f9fcfd"/><rect x="1821.51" y="1611.52" width="23.39" height="23.39" fill="#f7f7fb"/><rect x="1844.40" y="1611.52" width="23.39" height="23.39" fill="#f7f7fb"/><rect x="1867.28" y="1611.52" width="23.39" height="23.39" fill="#f9fcfd"/><rect x="1890.17" y="1611.52" width="23.39" height="23.39" fill="#f9fcfd"/><rect x="1913.05" y="1611.52" width="23.39" height="23.39" fill="#fefaf6"/><rect x="1935.94" y="1611.52" width="23.39" height="23.39" fill="#fdf0f0"/><rect x="1958.82" y="1611.52" width="23.39" height="23.39" fill="#fce9ea"/><rect x="1981.71" y="1611.52" width="23.39" height="23.39" fill="#fdf0f0"/><rect x="2004.59" y="1611.52" width="23.39" height="23.39" fill="#fce9ea"/><rect x="2027.48" y="1611.52" width="23.39" height="23.39" fill="#fce0e0"/><rect x="2050.36" y="1611.52" width="22.89" height="23.39" fill="#fce9ea"/><rect x="1752.50" y="1634.41" width="23.74" height="23.39" fill="#fef6f6"/><rect x="1821.51" y="1634.41" width="23.39" height="23.39" fill="#f7f7fb"/><rect x="1844.40" y="1634.41" width="23.39" height="23.39" fill="#f3f3f9"/><rect x="1890.17" y="1634.41" width="23.39" height="23.39" fill="#f7f7fb"/><rect x="1913.05" y="1634.41" width="23.39" height="23.39" fill="#fefaf6"/><rect x="1935.94" y="1634.41" width="23.39" height="23.39" fill="#fefaf6"/><rect x="1958.82" y="1634.41" width="23.39" height="23.39" fill="#fdf0f0"/><rect x="1981.71" y="1634.41" width="23.39" height="23.39" fill="#fdf0f0"/><rect x="2004.59" y="1634.41" width="23.39" height="23.39" fill="#fdf0f0"/><rect x="2027.48" y="1634.41" width="23.39" height="23.39" fill="#fce0e0"/><rect x="2050.36" y="1634.41" width="22.89" height="23.39" fill="#fdf0f0"/><rect x="1775.74" y="1657.30" width="23.39" height="23.39" fill="#f7f7fb"/><rect x="1798.63" y="1657.30" width="23.39" height="23.39" fill="#f9fcfd"/><rect x="1821.51" y="1657.30" width="23.39" height="23.39" fill="#f9fcfd"/><rect x="1867.28" y="1657.30" width="23.39" height="23.39" fill="#f7f7fb"/><rect x="1890.17" y="1657.30" width="23.39" height="23.39" fill="#f7f7fb"/><rect x="1935.94" y="1657.30" width="23.39" height="23.39" fill="#f9fcfd"/><rect x="1981.71" y="1657.30" width="23.39" height="23.39" fill="#fef3f3"/><rect x="2004.59" y="1657.30" width="23.39" height="23.39" fill="#fef3f3"/><rect x="2027.48" y="1657.30" width="23.39" height="23.39" fill="#fce0e0"/><rect x="2050.36" y="1657.30" width="22.89" height="23.39" fill="#fdf0f0"/><rect x="1752.50" y="1680.19" width="23.74" height="23.39" fill="#f7f7fb"/><rect x="1775.74" y="1680.19" width="23.39" height="23.39" fill="#f7f7fb"/><rect x="1867.28" y="1680.19" width="23.39" height="23.39" fill="#f7f7fb"/><rect x="1890.17" y="1680.19" width="23.39" height="23.39" fill="#f7f7fb"/><rect x="2004.59" y="1680.19" width="23.39" height="23.39" fill="#fefafa"/><rect x="2027.48" y="1680.19" width="23.39" height="23.39" fill="#fceced"/><rect x="2050.36" y="1680.19" width="22.89" height="23.39" fill="#fceced"/><rect x="1752.50" y="1703.08" width="23.74" height="23.32" fill="#fef6f6"/><rect x="1775.74" y="1703.08" width="23.39" height="23.32" fill="#f7f7fb"/><rect x="1821.51" y="1703.08" width="23.39" height="23.32" fill="#fbfbfd"/><rect x="1844.40" y="1703.08" width="23.39" height="23.32" fill="#f7f7fb"/><rect x="1890.17" y="1703.08" width="23.39" height="23.32" fill="#f7f7fb"/><rect x="1913.05" y="1703.08" width="23.39" height="23.32" fill="#f7f7fb"/><rect x="1935.94" y="1703.08" width="23.39" height="23.32" fill="#f7f7fb"/><rect x="1958.82" y="1703.08" width="23.39" height="23.32" fill="#fbfbfd"/><rect x="2004.59" y="1703.08" width="23.39" height="23.32" fill="#fffcfc"/><rect x="2027.48" y="1703.08" width="23.39" height="23.32" fill="#fceced"/><rect x="2050.36" y="1703.08" width="22.89" height="23.32" fill="#fceced"/></g>
<rect x="1748.40" y="1517.26" width="4.10" height="211.09" fill="#000"/>
<rect x="1750.45" y="1726.40" width="325.30" height="3.90" fill="#000"/>
<rect x="1745.00" y="1529.61" width="3.4" height="3.6" fill="#333333"/><rect x="1745.00" y="1552.50" width="3.4" height="3.6" fill="#333333"/><rect x="1745.00" y="1575.38" width="3.4" height="3.6" fill="#333333"/><rect x="1745.00" y="1598.28" width="3.4" height="3.6" fill="#333333"/><rect x="1745.00" y="1621.17" width="3.4" height="3.6" fill="#333333"/><rect x="1745.00" y="1644.06" width="3.4" height="3.6" fill="#333333"/><rect x="1745.00" y="1666.95" width="3.4" height="3.6" fill="#333333"/><rect x="1745.00" y="1689.84" width="3.4" height="3.6" fill="#333333"/><rect x="1745.00" y="1712.73" width="3.4" height="3.6" fill="#333333"/><rect x="1762.30" y="1730.30" width="4.0" height="3.2" fill="#333333"/><rect x="1785.19" y="1730.30" width="4.0" height="3.2" fill="#333333"/><rect x="1808.07" y="1730.30" width="4.0" height="3.2" fill="#333333"/><rect x="1830.96" y="1730.30" width="4.0" height="3.2" fill="#333333"/><rect x="1853.84" y="1730.30" width="4.0" height="3.2" fill="#333333"/><rect x="1876.73" y="1730.30" width="4.0" height="3.2" fill="#333333"/><rect x="1899.61" y="1730.30" width="4.0" height="3.2" fill="#333333"/><rect x="1922.50" y="1730.30" width="4.0" height="3.2" fill="#333333"/><rect x="1945.38" y="1730.30" width="4.0" height="3.2" fill="#333333"/><rect x="1968.27" y="1730.30" width="4.0" height="3.2" fill="#333333"/><rect x="1991.15" y="1730.30" width="4.0" height="3.2" fill="#333333"/><rect x="2014.04" y="1730.30" width="4.0" height="3.2" fill="#333333"/><rect x="2036.92" y="1730.30" width="4.0" height="3.2" fill="#333333"/><rect x="2059.81" y="1730.30" width="4.0" height="3.2" fill="#333333"/>
<text x="1738.00" y="1539.61" font-size="24" text-anchor="end">4000</text><text x="1738.00" y="1562.50" font-size="24" text-anchor="end">2000</text><text x="1738.00" y="1585.38" font-size="24" text-anchor="end">1000</text><text x="1738.00" y="1608.28" font-size="24" text-anchor="end">500</text><text x="1738.00" y="1631.17" font-size="24" text-anchor="end">250</text><text x="1738.00" y="1654.06" font-size="24" text-anchor="end">125</text><text x="1738.00" y="1676.95" font-size="24" text-anchor="end">63</text><text x="1738.00" y="1699.84" font-size="24" text-anchor="end">31</text><text x="1738.00" y="1722.73" font-size="24" text-anchor="end">16</text><text transform="translate(1771.40 1738.10) rotate(-90)" font-size="24" text-anchor="end">0.49</text><text transform="translate(1794.29 1738.10) rotate(-90)" font-size="24" text-anchor="end">0.98</text><text transform="translate(1817.17 1738.10) rotate(-90)" font-size="24" text-anchor="end">2.0</text><text transform="translate(1840.06 1738.10) rotate(-90)" font-size="24" text-anchor="end">3.9</text><text transform="translate(1862.94 1738.10) rotate(-90)" font-size="24" text-anchor="end">7.8</text><text transform="translate(1885.83 1738.10) rotate(-90)" font-size="24" text-anchor="end">16</text><text transform="translate(1908.71 1738.10) rotate(-90)" font-size="24" text-anchor="end">31</text><text transform="translate(1931.60 1738.10) rotate(-90)" font-size="24" text-anchor="end">63</text><text transform="translate(1954.48 1738.10) rotate(-90)" font-size="24" text-anchor="end">125</text><text transform="translate(1977.37 1738.10) rotate(-90)" font-size="24" text-anchor="end">250</text><text transform="translate(2000.25 1738.10) rotate(-90)" font-size="24" text-anchor="end">500</text><text transform="translate(2023.14 1738.10) rotate(-90)" font-size="24" text-anchor="end">1000</text><text transform="translate(2046.02 1738.10) rotate(-90)" font-size="24" text-anchor="end">2000</text><text transform="translate(2068.91 1738.10) rotate(-90)" font-size="24" text-anchor="end">4000</text>
<text x="1615.04" y="1309.60" font-size="31.75" font-weight="bold"><tspan font-style="italic">BCL2L1</tspan>: doxorubicin x WEHI-539</text>
<text x="1704.39" y="1348.30" font-size="31.75" font-weight="bold">SKLU1 (high BCL2L1)</text>
<text x="1733.28" y="1386.10" font-size="31.75" font-weight="bold">F = 40.7, p &lt; 2e-16</text>
<text x="1788.40" y="1840.70" font-size="31.70">Doxorubicin (nM)</text>
<text transform="translate(1661.50 1624.70) rotate(-90)" font-size="31.70" text-anchor="middle">WEHI−539 (nM)</text>
<g shape-rendering="crispEdges"><rect x="144.60" y="2110.94" width="29.92" height="29.63" fill="#fefaf6"/><rect x="174.02" y="2110.94" width="29.54" height="29.63" fill="#fefaf6"/><rect x="232.10" y="2110.94" width="29.54" height="29.63" fill="#fef6f6"/><rect x="261.14" y="2110.94" width="29.54" height="29.63" fill="#fdf0f0"/><rect x="290.18" y="2110.94" width="29.54" height="29.63" fill="#fdf0f0"/><rect x="319.22" y="2110.94" width="29.54" height="29.63" fill="#fce9ea"/><rect x="348.26" y="2110.94" width="29.54" height="29.63" fill="#fdf0f0"/><rect x="406.34" y="2110.94" width="29.54" height="29.63" fill="#fbfbfd"/><rect x="435.38" y="2110.94" width="29.04" height="29.63" fill="#fbfbfd"/><rect x="174.02" y="2140.07" width="29.54" height="29.63" fill="#fef6f6"/><rect x="203.06" y="2140.07" width="29.54" height="29.63" fill="#fefaf6"/><rect x="261.14" y="2140.07" width="29.54" height="29.63" fill="#fef6f6"/><rect x="290.18" y="2140.07" width="29.54" height="29.63" fill="#fce3e4"/><rect x="319.22" y="2140.07" width="29.54" height="29.63" fill="#fdf0f0"/><rect x="348.26" y="2140.07" width="29.54" height="29.63" fill="#fdf0f0"/><rect x="377.30" y="2140.07" width="29.54" height="29.63" fill="#f9fcfd"/><rect x="406.34" y="2140.07" width="29.54" height="29.63" fill="#fbfbfd"/><rect x="435.38" y="2140.07" width="29.04" height="29.63" fill="#fbfbfd"/><rect x="144.60" y="2169.20" width="29.92" height="29.63" fill="#fefaf6"/><rect x="174.02" y="2169.20" width="29.54" height="29.63" fill="#f7f7fb"/><rect x="232.10" y="2169.20" width="29.54" height="29.63" fill="#fdf0f0"/><rect x="261.14" y="2169.20" width="29.54" height="29.63" fill="#fce9ea"/><rect x="290.18" y="2169.20" width="29.54" height="29.63" fill="#fce3e4"/><rect x="319.22" y="2169.20" width="29.54" height="29.63" fill="#fdf0f0"/><rect x="348.26" y="2169.20" width="29.54" height="29.63" fill="#fdf0f0"/><rect x="377.30" y="2169.20" width="29.54" height="29.63" fill="#fefaf6"/><rect x="406.34" y="2169.20" width="29.54" height="29.63" fill="#fbfbfd"/><rect x="435.38" y="2169.20" width="29.04" height="29.63" fill="#fbfbfd"/><rect x="144.60" y="2198.33" width="29.92" height="29.63" fill="#fce9ea"/><rect x="174.02" y="2198.33" width="29.54" height="29.63" fill="#fbfbfd"/><rect x="203.06" y="2198.33" width="29.54" height="29.63" fill="#f7f7fb"/><rect x="290.18" y="2198.33" width="29.54" height="29.63" fill="#fce9ea"/><rect x="319.22" y="2198.33" width="29.54" height="29.63" fill="#fce9ea"/><rect x="348.26" y="2198.33" width="29.54" height="29.63" fill="#fdf0f0"/><rect x="406.34" y="2198.33" width="29.54" height="29.63" fill="#fbfbfd"/><rect x="435.38" y="2198.33" width="29.04" height="29.63" fill="#f7f7fb"/><rect x="144.60" y="2227.46" width="29.92" height="29.63" fill="#f9fcfd"/><rect x="174.02" y="2227.46" width="29.54" height="29.63" fill="#fbfbfd"/><rect x="203.06" y="2227.46" width="29.54" height="29.63" fill="#fbfbfd"/><rect x="232.10" y="2227.46" width="29.54" height="29.63" fill="#fbfbfd"/><rect x="261.14" y="2227.46" width="29.54" height="29.63" fill="#fef6f6"/><rect x="290.18" y="2227.46" width="29.54" height="29.63" fill="#fef6f6"/><rect x="319.22" y="2227.46" width="29.54" height="29.63" fill="#fce3e4"/><rect x="348.26" y="2227.46" width="29.54" height="29.63" fill="#fdf0f0"/><rect x="377.30" y="2227.46" width="29.54" height="29.63" fill="#f9fcfd"/><rect x="406.34" y="2227.46" width="29.54" height="29.63" fill="#fbfbfd"/><rect x="435.38" y="2227.46" width="29.04" height="29.63" fill="#f7f7fb"/><rect x="144.60" y="2256.59" width="29.92" height="29.63" fill="#f7f7fb"/><rect x="174.02" y="2256.59" width="29.54" height="29.63" fill="#f7f7fb"/><rect x="203.06" y="2256.59" width="29.54" height="29.63" fill="#fbfbfd"/><rect x="232.10" y="2256.59" width="29.54" height="29.63" fill="#fefaf6"/><rect x="290.18" y="2256.59" width="29.54" height="29.63" fill="#fefaf6"/><rect x="319.22" y="2256.59" width="29.54" height="29.63" fill="#fce9ea"/><rect x="348.26" y="2256.59" width="29.54" height="29.63" fill="#fdf0f0"/><rect x="406.34" y="2256.59" width="29.54" height="29.63" fill="#fbfbfd"/><rect x="435.38" y="2256.59" width="29.04" height="29.63" fill="#f7f7fb"/><rect x="232.10" y="2285.72" width="29.54" height="29.63" fill="#fbfbfd"/><rect x="290.18" y="2285.72" width="29.54" height="29.63" fill="#fef6f6"/><rect x="319.22" y="2285.72" width="29.54" height="29.63" fill="#fefaf6"/><rect x="348.26" y="2285.72" width="29.54" height="29.63" fill="#fdf0f0"/><rect x="406.34" y="2285.72" width="29.54" height="29.63" fill="#f7f7fb"/><rect x="435.38" y="2285.72" width="29.04" height="29.63" fill="#fbfbfd"/><rect x="261.14" y="2314.85" width="29.54" height="29.63" fill="#fbfbfd"/><rect x="290.18" y="2314.85" width="29.54" height="29.63" fill="#fefaf6"/><rect x="319.22" y="2314.85" width="29.54" height="29.63" fill="#fbfbfd"/><rect x="348.26" y="2314.85" width="29.54" height="29.63" fill="#fdf0f0"/><rect x="406.34" y="2314.85" width="29.54" height="29.63" fill="#fbfbfd"/><rect x="435.38" y="2314.85" width="29.04" height="29.63" fill="#fbfbfd"/><rect x="174.02" y="2343.98" width="29.54" height="29.63" fill="#fbfbfd"/><rect x="203.06" y="2343.98" width="29.54" height="29.63" fill="#f7f7fb"/><rect x="232.10" y="2343.98" width="29.54" height="29.63" fill="#f9fcfd"/><rect x="261.14" y="2343.98" width="29.54" height="29.63" fill="#f9fcfd"/><rect x="290.18" y="2343.98" width="29.54" height="29.63" fill="#f9fcfd"/><rect x="319.22" y="2343.98" width="29.54" height="29.63" fill="#fbfbfd"/><rect x="348.26" y="2343.98" width="29.54" height="29.63" fill="#fefaf6"/><rect x="406.34" y="2343.98" width="29.54" height="29.63" fill="#f7f7fb"/><rect x="435.38" y="2343.98" width="29.04" height="29.63" fill="#f7f7fb"/><rect x="261.14" y="2373.11" width="29.54" height="29.63" fill="#f9fcfd"/><rect x="319.22" y="2373.11" width="29.54" height="29.63" fill="#f3f3f9"/><rect x="348.26" y="2373.11" width="29.54" height="29.63" fill="#f7f7fb"/><rect x="406.34" y="2373.11" width="29.54" height="29.63" fill="#fbfbfd"/><rect x="435.38" y="2373.11" width="29.04" height="29.63" fill="#f7f7fb"/><rect x="144.60" y="2402.24" width="29.92" height="29.86" fill="#fbfbfd"/><rect x="174.02" y="2402.24" width="29.54" height="29.86" fill="#fefaf6"/><rect x="203.06" y="2402.24" width="29.54" height="29.86" fill="#fefaf6"/><rect x="261.14" y="2402.24" width="29.54" height="29.86" fill="#f9fcfd"/><rect x="319.22" y="2402.24" width="29.54" height="29.86" fill="#f7f7fb"/><rect x="406.34" y="2402.24" width="29.54" height="29.86" fill="#fbfbfd"/><rect x="435.38" y="2402.24" width="29.04" height="29.86" fill="#fbfbfd"/></g>
<rect x="140.40" y="2108.24" width="4.20" height="326.06" fill="#000"/>
<rect x="142.50" y="2432.10" width="324.42" height="4.40" fill="#000"/>
<rect x="137.00" y="2123.70" width="3.4" height="3.6" fill="#333333"/><rect x="137.00" y="2152.84" width="3.4" height="3.6" fill="#333333"/><rect x="137.00" y="2181.96" width="3.4" height="3.6" fill="#333333"/><rect x="137.00" y="2211.09" width="3.4" height="3.6" fill="#333333"/><rect x="137.00" y="2240.22" width="3.4" height="3.6" fill="#333333"/><rect x="137.00" y="2269.36" width="3.4" height="3.6" fill="#333333"/><rect x="137.00" y="2298.48" width="3.4" height="3.6" fill="#333333"/><rect x="137.00" y="2327.61" width="3.4" height="3.6" fill="#333333"/><rect x="137.00" y="2356.74" width="3.4" height="3.6" fill="#333333"/><rect x="137.00" y="2385.88" width="3.4" height="3.6" fill="#333333"/><rect x="137.00" y="2415.01" width="3.4" height="3.6" fill="#333333"/><rect x="157.50" y="2436.50" width="4.0" height="3.2" fill="#333333"/><rect x="186.54" y="2436.50" width="4.0" height="3.2" fill="#333333"/><rect x="215.58" y="2436.50" width="4.0" height="3.2" fill="#333333"/><rect x="244.62" y="2436.50" width="4.0" height="3.2" fill="#333333"/><rect x="273.66" y="2436.50" width="4.0" height="3.2" fill="#333333"/><rect x="302.70" y="2436.50" width="4.0" height="3.2" fill="#333333"/><rect x="331.74" y="2436.50" width="4.0" height="3.2" fill="#333333"/><rect x="360.78" y="2436.50" width="4.0" height="3.2" fill="#333333"/><rect x="389.82" y="2436.50" width="4.0" height="3.2" fill="#333333"/><rect x="418.86" y="2436.50" width="4.0" height="3.2" fill="#333333"/><rect x="447.90" y="2436.50" width="4.0" height="3.2" fill="#333333"/>
<text x="129.30" y="2133.11" font-size="24" text-anchor="end">8000</text><text x="129.30" y="2162.24" font-size="24" text-anchor="end">4000</text><text x="129.30" y="2191.36" font-size="24" text-anchor="end">2000</text><text x="129.30" y="2220.49" font-size="24" text-anchor="end">1000</text><text x="129.30" y="2249.62" font-size="24" text-anchor="end">500</text><text x="129.30" y="2278.76" font-size="24" text-anchor="end">250</text><text x="129.30" y="2307.88" font-size="24" text-anchor="end">125</text><text x="129.30" y="2337.01" font-size="24" text-anchor="end">63</text><text x="129.30" y="2366.14" font-size="24" text-anchor="end">31</text><text x="129.30" y="2395.28" font-size="24" text-anchor="end">16</text><text x="129.30" y="2424.41" font-size="24" text-anchor="end">7.8</text><text transform="translate(166.10 2445.10) rotate(-90)" font-size="24" text-anchor="end">0.078</text><text transform="translate(195.14 2445.10) rotate(-90)" font-size="24" text-anchor="end">0.16</text><text transform="translate(224.18 2445.10) rotate(-90)" font-size="24" text-anchor="end">0.31</text><text transform="translate(253.22 2445.10) rotate(-90)" font-size="24" text-anchor="end">0.63</text><text transform="translate(282.26 2445.10) rotate(-90)" font-size="24" text-anchor="end">1.3</text><text transform="translate(311.30 2445.10) rotate(-90)" font-size="24" text-anchor="end">2.5</text><text transform="translate(340.34 2445.10) rotate(-90)" font-size="24" text-anchor="end">5</text><text transform="translate(369.38 2445.10) rotate(-90)" font-size="24" text-anchor="end">10</text><text transform="translate(398.42 2445.10) rotate(-90)" font-size="24" text-anchor="end">20</text><text transform="translate(427.46 2445.10) rotate(-90)" font-size="24" text-anchor="end">40</text><text transform="translate(456.50 2445.10) rotate(-90)" font-size="24" text-anchor="end">80</text>
<text x="47.01" y="2018.60" font-size="31.75" font-weight="bold"><tspan font-style="italic">SLC7A11</tspan>: PRIMA-1 x erastin</text>
<text x="108.88" y="2058.30" font-size="31.75" font-weight="bold">BT12 (low SLC7A11)</text>
<text x="127.38" y="2096.10" font-size="31.75" font-weight="bold">F = 5.63, p = 0.001</text>
<text x="200.40" y="2545.90" font-size="31.70">PRIMA−1 (µM)</text>
<text transform="translate(42.50 2274.50) rotate(-90)" font-size="31.70" text-anchor="middle">Erastin (nM)</text>
<g shape-rendering="crispEdges"><rect x="678.30" y="2216.86" width="24.94" height="24.38" fill="#fefaf6"/><rect x="702.74" y="2216.86" width="24.39" height="24.38" fill="#fefaf6"/><rect x="750.52" y="2216.86" width="24.39" height="24.38" fill="#fef6f6"/><rect x="798.30" y="2216.86" width="24.39" height="24.38" fill="#fefaf6"/><rect x="822.19" y="2216.86" width="24.39" height="24.38" fill="#fefaf6"/><rect x="846.08" y="2216.86" width="24.39" height="24.38" fill="#fefaf6"/><rect x="869.97" y="2216.86" width="24.39" height="24.38" fill="#fef6f6"/><rect x="893.86" y="2216.86" width="24.39" height="24.38" fill="#fef6f6"/><rect x="917.75" y="2216.86" width="24.39" height="24.38" fill="#fef6f6"/><rect x="941.64" y="2216.86" width="24.39" height="24.38" fill="#fdf0f0"/><rect x="965.53" y="2216.86" width="23.89" height="24.38" fill="#fef6f6"/><rect x="678.30" y="2240.74" width="24.94" height="24.38" fill="#fbfbfd"/><rect x="702.74" y="2240.74" width="24.39" height="24.38" fill="#fbfbfd"/><rect x="726.63" y="2240.74" width="24.39" height="24.38" fill="#fbfbfd"/><rect x="750.52" y="2240.74" width="24.39" height="24.38" fill="#fbfbfd"/><rect x="774.41" y="2240.74" width="24.39" height="24.38" fill="#fbfbfd"/><rect x="798.30" y="2240.74" width="24.39" height="24.38" fill="#fbfbfd"/><rect x="822.19" y="2240.74" width="24.39" height="24.38" fill="#f7f7fb"/><rect x="869.97" y="2240.74" width="24.39" height="24.38" fill="#fefaf6"/><rect x="893.86" y="2240.74" width="24.39" height="24.38" fill="#fef6f6"/><rect x="917.75" y="2240.74" width="24.39" height="24.38" fill="#fef6f6"/><rect x="941.64" y="2240.74" width="24.39" height="24.38" fill="#fef6f6"/><rect x="965.53" y="2240.74" width="23.89" height="24.38" fill="#fef6f6"/><rect x="702.74" y="2264.61" width="24.39" height="24.38" fill="#fbfbfd"/><rect x="798.30" y="2264.61" width="24.39" height="24.38" fill="#fbfbfd"/><rect x="822.19" y="2264.61" width="24.39" height="24.38" fill="#fbfbfd"/><rect x="869.97" y="2264.61" width="24.39" height="24.38" fill="#fef6f6"/><rect x="893.86" y="2264.61" width="24.39" height="24.38" fill="#fef6f6"/><rect x="917.75" y="2264.61" width="24.39" height="24.38" fill="#fdf0f0"/><rect x="941.64" y="2264.61" width="24.39" height="24.38" fill="#fdf0f0"/><rect x="965.53" y="2264.61" width="23.89" height="24.38" fill="#fef6f6"/><rect x="702.74" y="2288.49" width="24.39" height="24.38" fill="#fefaf6"/><rect x="726.63" y="2288.49" width="24.39" height="24.38" fill="#f9fcfd"/><rect x="798.30" y="2288.49" width="24.39" height="24.38" fill="#fefaf6"/><rect x="822.19" y="2288.49" width="24.39" height="24.38" fill="#f9fcfd"/><rect x="846.08" y="2288.49" width="24.39" height="24.38" fill="#f9fcfd"/><rect x="869.97" y="2288.49" width="24.39" height="24.38" fill="#f9fcfd"/><rect x="893.86" y="2288.49" width="24.39" height="24.38" fill="#fefaf6"/><rect x="917.75" y="2288.49" width="24.39" height="24.38" fill="#fdf0f0"/><rect x="941.64" y="2288.49" width="24.39" height="24.38" fill="#fef6f6"/><rect x="965.53" y="2288.49" width="23.89" height="24.38" fill="#fef6f6"/><rect x="678.30" y="2312.36" width="24.94" height="24.38" fill="#fbfbfd"/><rect x="702.74" y="2312.36" width="24.39" height="24.38" fill="#f9fcfd"/><rect x="750.52" y="2312.36" width="24.39" height="24.38" fill="#fbfbfd"/><rect x="846.08" y="2312.36" width="24.39" height="24.38" fill="#fefaf6"/><rect x="869.97" y="2312.36" width="24.39" height="24.38" fill="#fbfbfd"/><rect x="893.86" y="2312.36" width="24.39" height="24.38" fill="#fbfbfd"/><rect x="917.75" y="2312.36" width="24.39" height="24.38" fill="#fdf0f0"/><rect x="965.53" y="2312.36" width="23.89" height="24.38" fill="#fef6f6"/><rect x="678.30" y="2336.24" width="24.94" height="24.38" fill="#fbfbfd"/><rect x="702.74" y="2336.24" width="24.39" height="24.38" fill="#fbfbfd"/><rect x="726.63" y="2336.24" width="24.39" height="24.38" fill="#f7f7fb"/><rect x="750.52" y="2336.24" width="24.39" height="24.38" fill="#f9fcfd"/><rect x="822.19" y="2336.24" width="24.39" height="24.38" fill="#f7f7fb"/><rect x="893.86" y="2336.24" width="24.39" height="24.38" fill="#f7f7fb"/><rect x="965.53" y="2336.24" width="23.89" height="24.38" fill="#fefaf6"/><rect x="678.30" y="2360.11" width="24.94" height="24.38" fill="#f9fcfd"/><rect x="726.63" y="2360.11" width="24.39" height="24.38" fill="#f9fcfd"/><rect x="750.52" y="2360.11" width="24.39" height="24.38" fill="#fbfbfd"/><rect x="774.41" y="2360.11" width="24.39" height="24.38" fill="#fbfbfd"/><rect x="798.30" y="2360.11" width="24.39" height="24.38" fill="#f7f7fb"/><rect x="846.08" y="2360.11" width="24.39" height="24.38" fill="#fbfbfd"/><rect x="893.86" y="2360.11" width="24.39" height="24.38" fill="#fbfbfd"/><rect x="917.75" y="2360.11" width="24.39" height="24.38" fill="#fefaf6"/><rect x="941.64" y="2360.11" width="24.39" height="24.38" fill="#f7f7fb"/><rect x="965.53" y="2360.11" width="23.89" height="24.38" fill="#f7f7fb"/><rect x="678.30" y="2383.99" width="24.94" height="24.38" fill="#fbfbfd"/><rect x="726.63" y="2383.99" width="24.39" height="24.38" fill="#fbfbfd"/><rect x="798.30" y="2383.99" width="24.39" height="24.38" fill="#fbfbfd"/><rect x="822.19" y="2383.99" width="24.39" height="24.38" fill="#fefaf6"/><rect x="846.08" y="2383.99" width="24.39" height="24.38" fill="#fefaf6"/><rect x="893.86" y="2383.99" width="24.39" height="24.38" fill="#fbfbfd"/><rect x="917.75" y="2383.99" width="24.39" height="24.38" fill="#f3f3f9"/><rect x="678.30" y="2407.86" width="24.94" height="24.24" fill="#fbfbfd"/><rect x="702.74" y="2407.86" width="24.39" height="24.24" fill="#fbfbfd"/><rect x="726.63" y="2407.86" width="24.39" height="24.24" fill="#fbfbfd"/><rect x="750.52" y="2407.86" width="24.39" height="24.24" fill="#f9fcfd"/><rect x="774.41" y="2407.86" width="24.39" height="24.24" fill="#fbfbfd"/><rect x="798.30" y="2407.86" width="24.39" height="24.24" fill="#f9fcfd"/><rect x="846.08" y="2407.86" width="24.39" height="24.24" fill="#fbfbfd"/><rect x="869.97" y="2407.86" width="24.39" height="24.24" fill="#fbfbfd"/><rect x="893.86" y="2407.86" width="24.39" height="24.24" fill="#f7f7fb"/><rect x="917.75" y="2407.86" width="24.39" height="24.24" fill="#fef6f6"/></g>
<rect x="674.40" y="2214.16" width="3.90" height="220.04" fill="#000"/>
<rect x="676.35" y="2432.10" width="315.57" height="4.20" fill="#000"/>
<rect x="671.00" y="2227.00" width="3.4" height="3.6" fill="#333333"/><rect x="671.00" y="2250.87" width="3.4" height="3.6" fill="#333333"/><rect x="671.00" y="2274.75" width="3.4" height="3.6" fill="#333333"/><rect x="671.00" y="2298.62" width="3.4" height="3.6" fill="#333333"/><rect x="671.00" y="2322.50" width="3.4" height="3.6" fill="#333333"/><rect x="671.00" y="2346.37" width="3.4" height="3.6" fill="#333333"/><rect x="671.00" y="2370.25" width="3.4" height="3.6" fill="#333333"/><rect x="671.00" y="2394.12" width="3.4" height="3.6" fill="#333333"/><rect x="671.00" y="2418.00" width="3.4" height="3.6" fill="#333333"/><rect x="688.80" y="2436.30" width="4.0" height="3.2" fill="#333333"/><rect x="712.69" y="2436.30" width="4.0" height="3.2" fill="#333333"/><rect x="736.58" y="2436.30" width="4.0" height="3.2" fill="#333333"/><rect x="760.47" y="2436.30" width="4.0" height="3.2" fill="#333333"/><rect x="784.36" y="2436.30" width="4.0" height="3.2" fill="#333333"/><rect x="808.25" y="2436.30" width="4.0" height="3.2" fill="#333333"/><rect x="832.13" y="2436.30" width="4.0" height="3.2" fill="#333333"/><rect x="856.03" y="2436.30" width="4.0" height="3.2" fill="#333333"/><rect x="879.91" y="2436.30" width="4.0" height="3.2" fill="#333333"/><rect x="903.81" y="2436.30" width="4.0" height="3.2" fill="#333333"/><rect x="927.70" y="2436.30" width="4.0" height="3.2" fill="#333333"/><rect x="951.59" y="2436.30" width="4.0" height="3.2" fill="#333333"/><rect x="975.48" y="2436.30" width="4.0" height="3.2" fill="#333333"/>
<text x="667.60" y="2239.60" font-size="24" text-anchor="end">500</text><text x="667.60" y="2263.47" font-size="24" text-anchor="end">250</text><text x="667.60" y="2287.35" font-size="24" text-anchor="end">125</text><text x="667.60" y="2311.22" font-size="24" text-anchor="end">63</text><text x="667.60" y="2335.10" font-size="24" text-anchor="end">31</text><text x="667.60" y="2358.97" font-size="24" text-anchor="end">16</text><text x="667.60" y="2382.85" font-size="24" text-anchor="end">7.8</text><text x="667.60" y="2406.72" font-size="24" text-anchor="end">3.9</text><text x="667.60" y="2430.60" font-size="24" text-anchor="end">2.0</text><text transform="translate(699.80 2444.90) rotate(-90)" font-size="24" text-anchor="end">0.0024</text><text transform="translate(723.69 2444.90) rotate(-90)" font-size="24" text-anchor="end">0.0049</text><text transform="translate(747.58 2444.90) rotate(-90)" font-size="24" text-anchor="end">0.0098</text><text transform="translate(771.47 2444.90) rotate(-90)" font-size="24" text-anchor="end">0.020</text><text transform="translate(795.36 2444.90) rotate(-90)" font-size="24" text-anchor="end">0.039</text><text transform="translate(819.25 2444.90) rotate(-90)" font-size="24" text-anchor="end">0.078</text><text transform="translate(843.13 2444.90) rotate(-90)" font-size="24" text-anchor="end">0.16</text><text transform="translate(867.03 2444.90) rotate(-90)" font-size="24" text-anchor="end">0.31</text><text transform="translate(890.91 2444.90) rotate(-90)" font-size="24" text-anchor="end">0.63</text><text transform="translate(914.81 2444.90) rotate(-90)" font-size="24" text-anchor="end">1.3</text><text transform="translate(938.70 2444.90) rotate(-90)" font-size="24" text-anchor="end">2.5</text><text transform="translate(962.59 2444.90) rotate(-90)" font-size="24" text-anchor="end">5</text><text transform="translate(986.48 2444.90) rotate(-90)" font-size="24" text-anchor="end">10</text>
<text x="583.21" y="2018.60" font-size="31.75" font-weight="bold"><tspan font-style="italic">SLC7A11</tspan>: PRIMA-1 x erastin</text>
<text x="665.39" y="2058.30" font-size="31.75" font-weight="bold">SIMA (low SLC7A11)</text>
<text x="682.88" y="2096.10" font-size="31.75" font-weight="bold">F = 2.89, p &lt; 2e-16</text>
<text x="729.40" y="2548.70" font-size="31.70">PRIMA−1 (µM)</text>
<text transform="translate(601.60 2323.40) rotate(-90)" font-size="31.70" text-anchor="middle">Erastin (nM)</text>
<g shape-rendering="crispEdges"><rect x="1241.61" y="2327.35" width="17.94" height="18.00" fill="#fbfbfd"/><rect x="1398.57" y="2327.35" width="17.94" height="18.00" fill="#fbfbfd"/><rect x="1416.01" y="2327.35" width="17.94" height="18.00" fill="#fbfbfd"/><rect x="1433.45" y="2327.35" width="17.94" height="18.00" fill="#fefaf6"/><rect x="1450.89" y="2327.35" width="17.94" height="18.00" fill="#fef6f6"/><rect x="1468.33" y="2327.35" width="17.94" height="18.00" fill="#fef6f6"/><rect x="1485.77" y="2327.35" width="17.94" height="18.00" fill="#fef6f6"/><rect x="1503.21" y="2327.35" width="17.94" height="18.00" fill="#fef6f6"/><rect x="1206.90" y="2344.85" width="17.77" height="18.00" fill="#fbfbfd"/><rect x="1224.17" y="2344.85" width="17.94" height="18.00" fill="#fbfbfd"/><rect x="1241.61" y="2344.85" width="17.94" height="18.00" fill="#fbfbfd"/><rect x="1259.05" y="2344.85" width="17.94" height="18.00" fill="#fbfbfd"/><rect x="1346.25" y="2344.85" width="17.94" height="18.00" fill="#fbfbfd"/><rect x="1363.69" y="2344.85" width="17.94" height="18.00" fill="#fbfbfd"/><rect x="1381.13" y="2344.85" width="17.94" height="18.00" fill="#fbfbfd"/><rect x="1398.57" y="2344.85" width="17.94" height="18.00" fill="#f7f7fb"/><rect x="1416.01" y="2344.85" width="17.94" height="18.00" fill="#fbfbfd"/><rect x="1450.89" y="2344.85" width="17.94" height="18.00" fill="#fef6f6"/><rect x="1468.33" y="2344.85" width="17.94" height="18.00" fill="#fef6f6"/><rect x="1485.77" y="2344.85" width="17.94" height="18.00" fill="#fef6f6"/><rect x="1206.90" y="2362.35" width="17.77" height="18.00" fill="#fbfbfd"/><rect x="1363.69" y="2362.35" width="17.94" height="18.00" fill="#fbfbfd"/><rect x="1381.13" y="2362.35" width="17.94" height="18.00" fill="#f7f7fb"/><rect x="1398.57" y="2362.35" width="17.94" height="18.00" fill="#f7f7fb"/><rect x="1416.01" y="2362.35" width="17.94" height="18.00" fill="#fbfbfd"/><rect x="1433.45" y="2362.35" width="17.94" height="18.00" fill="#f3f3f9"/><rect x="1450.89" y="2362.35" width="17.94" height="18.00" fill="#fef6f6"/><rect x="1468.33" y="2362.35" width="17.94" height="18.00" fill="#fef6f6"/><rect x="1520.65" y="2362.35" width="17.44" height="18.00" fill="#fbfbfd"/><rect x="1224.17" y="2379.85" width="17.94" height="18.00" fill="#f7f7fb"/><rect x="1241.61" y="2379.85" width="17.94" height="18.00" fill="#fbfbfd"/><rect x="1311.37" y="2379.85" width="17.94" height="18.00" fill="#fef6f6"/><rect x="1346.25" y="2379.85" width="17.94" height="18.00" fill="#fef6f6"/><rect x="1363.69" y="2379.85" width="17.94" height="18.00" fill="#fefaf6"/><rect x="1468.33" y="2379.85" width="17.94" height="18.00" fill="#fdf0f0"/><rect x="1485.77" y="2379.85" width="17.94" height="18.00" fill="#fef6f6"/><rect x="1520.65" y="2379.85" width="17.44" height="18.00" fill="#fbfbfd"/><rect x="1259.05" y="2397.35" width="17.94" height="18.00" fill="#fbfbfd"/><rect x="1346.25" y="2397.35" width="17.94" height="18.00" fill="#fefaf6"/><rect x="1381.13" y="2397.35" width="17.94" height="18.00" fill="#fef6f6"/><rect x="1398.57" y="2397.35" width="17.94" height="18.00" fill="#fef6f6"/><rect x="1416.01" y="2397.35" width="17.94" height="18.00" fill="#fdf0f0"/><rect x="1433.45" y="2397.35" width="17.94" height="18.00" fill="#fefaf6"/><rect x="1468.33" y="2397.35" width="17.94" height="18.00" fill="#fdf0f0"/><rect x="1485.77" y="2397.35" width="17.94" height="18.00" fill="#fce9ea"/><rect x="1503.21" y="2397.35" width="17.94" height="18.00" fill="#fef6f6"/><rect x="1224.17" y="2414.85" width="17.94" height="17.25" fill="#fbfbfd"/><rect x="1241.61" y="2414.85" width="17.94" height="17.25" fill="#fbfbfd"/><rect x="1259.05" y="2414.85" width="17.94" height="17.25" fill="#fbfbfd"/><rect x="1276.49" y="2414.85" width="17.94" height="17.25" fill="#fbfbfd"/><rect x="1293.93" y="2414.85" width="17.94" height="17.25" fill="#f9fcfd"/><rect x="1416.01" y="2414.85" width="17.94" height="17.25" fill="#fef6f6"/><rect x="1433.45" y="2414.85" width="17.94" height="17.25" fill="#fdf0f0"/><rect x="1450.89" y="2414.85" width="17.94" height="17.25" fill="#fdf0f0"/><rect x="1485.77" y="2414.85" width="17.94" height="17.25" fill="#fce9ea"/><rect x="1503.21" y="2414.85" width="17.94" height="17.25" fill="#fef6f6"/><rect x="1520.65" y="2414.85" width="17.44" height="17.25" fill="#fbfbfd"/></g>
<rect x="1203.30" y="2324.65" width="3.60" height="109.30" fill="#000"/>
<rect x="1205.10" y="2432.10" width="335.49" height="3.70" fill="#000"/>
<rect x="1199.90" y="2334.30" width="3.4" height="3.6" fill="#333333"/><rect x="1199.90" y="2351.80" width="3.4" height="3.6" fill="#333333"/><rect x="1199.90" y="2369.30" width="3.4" height="3.6" fill="#333333"/><rect x="1199.90" y="2386.80" width="3.4" height="3.6" fill="#333333"/><rect x="1199.90" y="2404.30" width="3.4" height="3.6" fill="#333333"/><rect x="1199.90" y="2421.80" width="3.4" height="3.6" fill="#333333"/><rect x="1213.45" y="2435.80" width="4.0" height="3.2" fill="#333333"/><rect x="1230.89" y="2435.80" width="4.0" height="3.2" fill="#333333"/><rect x="1248.33" y="2435.80" width="4.0" height="3.2" fill="#333333"/><rect x="1265.77" y="2435.80" width="4.0" height="3.2" fill="#333333"/><rect x="1283.21" y="2435.80" width="4.0" height="3.2" fill="#333333"/><rect x="1300.65" y="2435.80" width="4.0" height="3.2" fill="#333333"/><rect x="1318.09" y="2435.80" width="4.0" height="3.2" fill="#333333"/><rect x="1335.53" y="2435.80" width="4.0" height="3.2" fill="#333333"/><rect x="1352.97" y="2435.80" width="4.0" height="3.2" fill="#333333"/><rect x="1370.41" y="2435.80" width="4.0" height="3.2" fill="#333333"/><rect x="1387.85" y="2435.80" width="4.0" height="3.2" fill="#333333"/><rect x="1405.29" y="2435.80" width="4.0" height="3.2" fill="#333333"/><rect x="1422.73" y="2435.80" width="4.0" height="3.2" fill="#333333"/><rect x="1440.17" y="2435.80" width="4.0" height="3.2" fill="#333333"/><rect x="1457.61" y="2435.80" width="4.0" height="3.2" fill="#333333"/><rect x="1475.05" y="2435.80" width="4.0" height="3.2" fill="#333333"/><rect x="1492.49" y="2435.80" width="4.0" height="3.2" fill="#333333"/><rect x="1509.93" y="2435.80" width="4.0" height="3.2" fill="#333333"/><rect x="1527.37" y="2435.80" width="4.0" height="3.2" fill="#333333"/>
<text x="1192.10" y="2345.70" font-size="24" text-anchor="end">8000</text><text x="1192.10" y="2363.20" font-size="24" text-anchor="end">4000</text><text x="1192.10" y="2380.70" font-size="24" text-anchor="end">2000</text><text x="1192.10" y="2398.20" font-size="24" text-anchor="end">1000</text><text x="1192.10" y="2415.70" font-size="24" text-anchor="end">500</text><text x="1192.10" y="2433.20" font-size="24" text-anchor="end">250</text><text transform="translate(1219.65 2444.60) rotate(-90)" font-size="24" text-anchor="end">0.027</text><text transform="translate(1237.09 2444.60) rotate(-90)" font-size="24" text-anchor="end">0.053</text><text transform="translate(1254.53 2444.60) rotate(-90)" font-size="24" text-anchor="end">0.080</text><text transform="translate(1271.97 2444.60) rotate(-90)" font-size="24" text-anchor="end">0.11</text><text transform="translate(1289.41 2444.60) rotate(-90)" font-size="24" text-anchor="end">0.16</text><text transform="translate(1306.85 2444.60) rotate(-90)" font-size="24" text-anchor="end">0.27</text><text transform="translate(1324.29 2444.60) rotate(-90)" font-size="24" text-anchor="end">0.40</text><text transform="translate(1341.73 2444.60) rotate(-90)" font-size="24" text-anchor="end">0.58</text><text transform="translate(1359.17 2444.60) rotate(-90)" font-size="24" text-anchor="end">0.88</text><text transform="translate(1376.61 2444.60) rotate(-90)" font-size="24" text-anchor="end">1.3</text><text transform="translate(1394.05 2444.60) rotate(-90)" font-size="24" text-anchor="end">2.0</text><text transform="translate(1411.49 2444.60) rotate(-90)" font-size="24" text-anchor="end">2.9</text><text transform="translate(1428.93 2444.60) rotate(-90)" font-size="24" text-anchor="end">4.4</text><text transform="translate(1446.37 2444.60) rotate(-90)" font-size="24" text-anchor="end">6.4</text><text transform="translate(1463.81 2444.60) rotate(-90)" font-size="24" text-anchor="end">10</text><text transform="translate(1481.25 2444.60) rotate(-90)" font-size="24" text-anchor="end">15</text><text transform="translate(1498.69 2444.60) rotate(-90)" font-size="24" text-anchor="end">22</text><text transform="translate(1516.13 2444.60) rotate(-90)" font-size="24" text-anchor="end">33</text><text transform="translate(1533.57 2444.60) rotate(-90)" font-size="24" text-anchor="end">50</text>
<text x="1133.91" y="2018.60" font-size="31.75" font-weight="bold"><tspan font-style="italic">SLC7A11</tspan>: PRIMA-1 x erastin</text>
<text x="1107.08" y="2058.30" font-size="31.75" font-weight="bold">HEC1A (medium-high SLC7A11)</text>
<text x="1212.18" y="2096.10" font-size="31.75" font-weight="bold">F = 10.1, p &lt; 2e-16</text>
<text x="1252.40" y="2548.70" font-size="31.70">PRIMA−1 (µM)</text>
<text transform="translate(1121.20 2375.90) rotate(-90)" font-size="31.70" text-anchor="middle">Erastin (nM)</text>
<g shape-rendering="crispEdges"><rect x="1770.68" y="2149.85" width="35.85" height="35.80" fill="#f9fcfd"/><rect x="1876.73" y="2149.85" width="35.85" height="35.80" fill="#fefaf6"/><rect x="1912.08" y="2149.85" width="35.85" height="35.80" fill="#fce9ea"/><rect x="1947.43" y="2149.85" width="35.85" height="35.80" fill="#ee6046"/><rect x="1982.78" y="2149.85" width="35.85" height="35.80" fill="#f38670"/><rect x="2018.13" y="2149.85" width="35.35" height="35.80" fill="#f9c9ca"/><rect x="1806.03" y="2185.15" width="35.85" height="35.80" fill="#f9fcfd"/><rect x="1912.08" y="2185.15" width="35.85" height="35.80" fill="#f9fcfd"/><rect x="1947.43" y="2185.15" width="35.85" height="35.80" fill="#fce9ea"/><rect x="1982.78" y="2185.15" width="35.85" height="35.80" fill="#ed563e"/><rect x="2018.13" y="2185.15" width="35.35" height="35.80" fill="#f8c3c2"/><rect x="1733.50" y="2220.45" width="37.68" height="35.80" fill="#f9fcfd"/><rect x="1841.38" y="2220.45" width="35.85" height="35.80" fill="#f9fcfd"/><rect x="1876.73" y="2220.45" width="35.85" height="35.80" fill="#f9fcfd"/><rect x="1912.08" y="2220.45" width="35.85" height="35.80" fill="#f9fcfd"/><rect x="1982.78" y="2220.45" width="35.85" height="35.80" fill="#fbdcdd"/><rect x="2018.13" y="2220.45" width="35.35" height="35.80" fill="#f8c3c2"/><rect x="1733.50" y="2255.75" width="37.68" height="35.80" fill="#f7f7fb"/><rect x="1806.03" y="2255.75" width="35.85" height="35.80" fill="#fbfbfd"/><rect x="1841.38" y="2255.75" width="35.85" height="35.80" fill="#f9fcfd"/><rect x="1876.73" y="2255.75" width="35.85" height="35.80" fill="#f9fcfd"/><rect x="1912.08" y="2255.75" width="35.85" height="35.80" fill="#f9fcfd"/><rect x="1982.78" y="2255.75" width="35.85" height="35.80" fill="#fefaf6"/><rect x="2018.13" y="2255.75" width="35.35" height="35.80" fill="#f7bdb9"/><rect x="1733.50" y="2291.05" width="37.68" height="35.80" fill="#fbfbfd"/><rect x="1806.03" y="2291.05" width="35.85" height="35.80" fill="#f7f7fb"/><rect x="1841.38" y="2291.05" width="35.85" height="35.80" fill="#fbfbfd"/><rect x="2018.13" y="2291.05" width="35.35" height="35.80" fill="#fbdcdd"/><rect x="1841.38" y="2326.35" width="35.85" height="35.80" fill="#f9fcfd"/><rect x="1876.73" y="2326.35" width="35.85" height="35.80" fill="#f7f7fb"/><rect x="1947.43" y="2326.35" width="35.85" height="35.80" fill="#f9fcfd"/><rect x="2018.13" y="2326.35" width="35.35" height="35.80" fill="#fdfdfe"/><rect x="1733.50" y="2361.65" width="37.68" height="35.80" fill="#f7f7fb"/><rect x="1770.68" y="2361.65" width="35.85" height="35.80" fill="#f3f3f9"/><rect x="1841.38" y="2361.65" width="35.85" height="35.80" fill="#f9fcfd"/><rect x="1876.73" y="2361.65" width="35.85" height="35.80" fill="#f9fcfd"/><rect x="1912.08" y="2361.65" width="35.85" height="35.80" fill="#f9fcfd"/><rect x="1947.43" y="2361.65" width="35.85" height="35.80" fill="#f9fcfd"/><rect x="1733.50" y="2396.95" width="37.68" height="37.05" fill="#f7f7fb"/><rect x="1770.68" y="2396.95" width="35.85" height="37.05" fill="#f9fcfd"/><rect x="1841.38" y="2396.95" width="35.85" height="37.05" fill="#f7f7fb"/><rect x="1912.08" y="2396.95" width="35.85" height="37.05" fill="#f7f7fb"/></g>
<rect x="1729.70" y="2147.15" width="3.80" height="288.75" fill="#000"/>
<rect x="1731.60" y="2434.00" width="324.38" height="3.80" fill="#000"/>
<rect x="1726.30" y="2165.70" width="3.4" height="3.6" fill="#333333"/><rect x="1726.30" y="2201.00" width="3.4" height="3.6" fill="#333333"/><rect x="1726.30" y="2236.30" width="3.4" height="3.6" fill="#333333"/><rect x="1726.30" y="2271.60" width="3.4" height="3.6" fill="#333333"/><rect x="1726.30" y="2306.90" width="3.4" height="3.6" fill="#333333"/><rect x="1726.30" y="2342.20" width="3.4" height="3.6" fill="#333333"/><rect x="1726.30" y="2377.50" width="3.4" height="3.6" fill="#333333"/><rect x="1726.30" y="2412.80" width="3.4" height="3.6" fill="#333333"/><rect x="1751.00" y="2437.80" width="4.0" height="3.2" fill="#333333"/><rect x="1786.36" y="2437.80" width="4.0" height="3.2" fill="#333333"/><rect x="1821.70" y="2437.80" width="4.0" height="3.2" fill="#333333"/><rect x="1857.05" y="2437.80" width="4.0" height="3.2" fill="#333333"/><rect x="1892.40" y="2437.80" width="4.0" height="3.2" fill="#333333"/><rect x="1927.75" y="2437.80" width="4.0" height="3.2" fill="#333333"/><rect x="1963.11" y="2437.80" width="4.0" height="3.2" fill="#333333"/><rect x="1998.45" y="2437.80" width="4.0" height="3.2" fill="#333333"/><rect x="2033.80" y="2437.80" width="4.0" height="3.2" fill="#333333"/>
<text x="1715.10" y="2174.40" font-size="24" text-anchor="end">4000</text><text x="1715.10" y="2209.70" font-size="24" text-anchor="end">2000</text><text x="1715.10" y="2245.00" font-size="24" text-anchor="end">1000</text><text x="1715.10" y="2280.30" font-size="24" text-anchor="end">500</text><text x="1715.10" y="2315.60" font-size="24" text-anchor="end">250</text><text x="1715.10" y="2350.90" font-size="24" text-anchor="end">125</text><text x="1715.10" y="2386.20" font-size="24" text-anchor="end">63</text><text x="1715.10" y="2421.50" font-size="24" text-anchor="end">31</text><text transform="translate(1760.80 2449.00) rotate(-90)" font-size="24" text-anchor="end">0.16</text><text transform="translate(1796.15 2449.00) rotate(-90)" font-size="24" text-anchor="end">0.31</text><text transform="translate(1831.50 2449.00) rotate(-90)" font-size="24" text-anchor="end">0.63</text><text transform="translate(1866.85 2449.00) rotate(-90)" font-size="24" text-anchor="end">1.3</text><text transform="translate(1902.20 2449.00) rotate(-90)" font-size="24" text-anchor="end">2.5</text><text transform="translate(1937.55 2449.00) rotate(-90)" font-size="24" text-anchor="end">5</text><text transform="translate(1972.90 2449.00) rotate(-90)" font-size="24" text-anchor="end">10</text><text transform="translate(2008.25 2449.00) rotate(-90)" font-size="24" text-anchor="end">20</text><text transform="translate(2043.60 2449.00) rotate(-90)" font-size="24" text-anchor="end">40</text>
<text x="1661.81" y="2018.60" font-size="31.75" font-weight="bold"><tspan font-style="italic">SLC7A11</tspan>: PRIMA-1 x erastin</text>
<text x="1698.39" y="2058.30" font-size="31.75" font-weight="bold">SKLU1 (high SLC7A11)</text>
<text x="1735.88" y="2096.10" font-size="31.75" font-weight="bold">F = 17.9, p &lt; 2e-16</text>
<text x="1794.15" y="2543.90" font-size="31.70">PRIMA−1 (µM)</text>
<text transform="translate(1643.50 2285.60) rotate(-90)" font-size="31.70" text-anchor="middle">Erastin (nM)</text>
</svg></body></html>
